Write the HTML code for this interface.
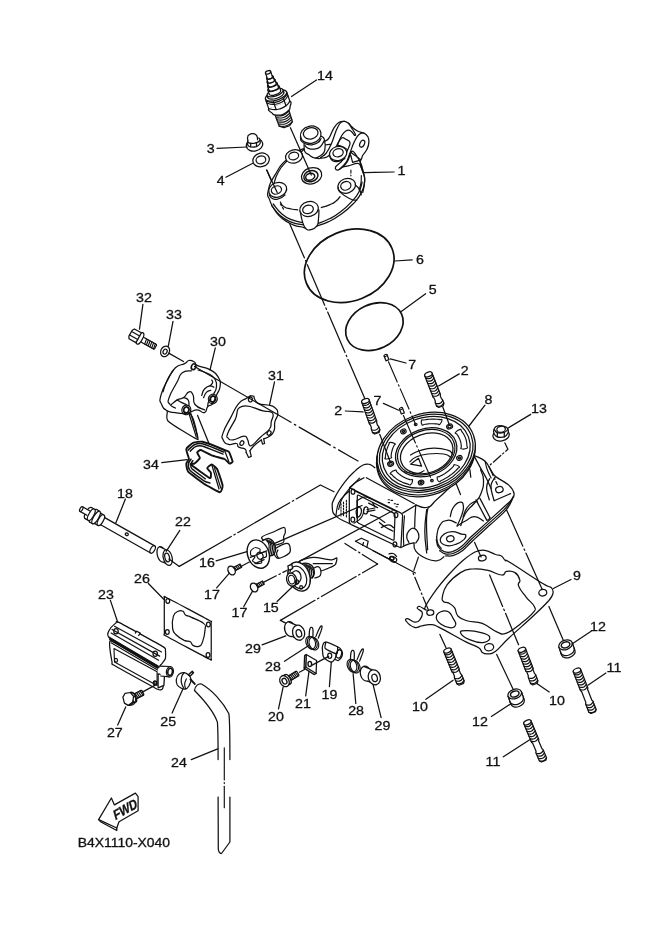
<!DOCTYPE html>
<html><head><meta charset="utf-8"><title>B4X1110-X040</title>
<style>
html,body{margin:0;padding:0;background:#fff;}
body{width:661px;height:935px;overflow:hidden;}
svg{display:block;will-change:transform;}
svg path,svg ellipse,svg circle,svg rect{fill:none;stroke:#111;stroke-width:1.25;stroke-linecap:round;stroke-linejoin:round;}
svg .w{fill:#fff;}
svg text{font-family:"Liberation Sans",sans-serif;fill:#111;stroke:#111;stroke-width:0.3px;}
</style></head><body>
<svg width="661" height="935" viewBox="0 0 661 935">
<text transform="translate(324.9 79.8) scale(1.13 1)" text-anchor="middle" font-size="12.6">14</text>
<text transform="translate(210.6 153.1) scale(1.13 1)" text-anchor="middle" font-size="12.6">3</text>
<text transform="translate(220.7 185.1) scale(1.13 1)" text-anchor="middle" font-size="12.6">4</text>
<text transform="translate(401.5 174.7) scale(1.13 1)" text-anchor="middle" font-size="12.6">1</text>
<text transform="translate(420 263.8) scale(1.13 1)" text-anchor="middle" font-size="12.6">6</text>
<text transform="translate(432.8 294.1) scale(1.13 1)" text-anchor="middle" font-size="12.6">5</text>
<text transform="translate(412.3 369.3) scale(1.13 1)" text-anchor="middle" font-size="12.6">7</text>
<text transform="translate(377.4 405) scale(1.13 1)" text-anchor="middle" font-size="12.6">7</text>
<text transform="translate(464.8 374.8) scale(1.13 1)" text-anchor="middle" font-size="12.6">2</text>
<text transform="translate(338.2 415.2) scale(1.13 1)" text-anchor="middle" font-size="12.6">2</text>
<text transform="translate(488.5 403.5) scale(1.13 1)" text-anchor="middle" font-size="12.6">8</text>
<text transform="translate(539 412.5) scale(1.13 1)" text-anchor="middle" font-size="12.6">13</text>
<text transform="translate(144 301.5) scale(1.13 1)" text-anchor="middle" font-size="12.6">32</text>
<text transform="translate(174 318.5) scale(1.13 1)" text-anchor="middle" font-size="12.6">33</text>
<text transform="translate(218 345.5) scale(1.13 1)" text-anchor="middle" font-size="12.6">30</text>
<text transform="translate(276 379.5) scale(1.13 1)" text-anchor="middle" font-size="12.6">31</text>
<text transform="translate(151 468.5) scale(1.13 1)" text-anchor="middle" font-size="12.6">34</text>
<text transform="translate(125 497.5) scale(1.13 1)" text-anchor="middle" font-size="12.6">18</text>
<text transform="translate(183 525.5) scale(1.13 1)" text-anchor="middle" font-size="12.6">22</text>
<text transform="translate(207 566.5) scale(1.13 1)" text-anchor="middle" font-size="12.6">16</text>
<text transform="translate(212 598.5) scale(1.13 1)" text-anchor="middle" font-size="12.6">17</text>
<text transform="translate(239.5 616.8) scale(1.13 1)" text-anchor="middle" font-size="12.6">17</text>
<text transform="translate(270.8 612) scale(1.13 1)" text-anchor="middle" font-size="12.6">15</text>
<text transform="translate(142 582.5) scale(1.13 1)" text-anchor="middle" font-size="12.6">26</text>
<text transform="translate(106 598.5) scale(1.13 1)" text-anchor="middle" font-size="12.6">23</text>
<text transform="translate(253 652.5) scale(1.13 1)" text-anchor="middle" font-size="12.6">29</text>
<text transform="translate(382.5 730.3) scale(1.13 1)" text-anchor="middle" font-size="12.6">29</text>
<text transform="translate(273 670.5) scale(1.13 1)" text-anchor="middle" font-size="12.6">28</text>
<text transform="translate(356.1 715.3) scale(1.13 1)" text-anchor="middle" font-size="12.6">28</text>
<text transform="translate(329.4 699) scale(1.13 1)" text-anchor="middle" font-size="12.6">19</text>
<text transform="translate(303 708) scale(1.13 1)" text-anchor="middle" font-size="12.6">21</text>
<text transform="translate(276 720.5) scale(1.13 1)" text-anchor="middle" font-size="12.6">20</text>
<text transform="translate(168.2 725.9) scale(1.13 1)" text-anchor="middle" font-size="12.6">25</text>
<text transform="translate(114.8 736.9) scale(1.13 1)" text-anchor="middle" font-size="12.6">27</text>
<text transform="translate(179 766.5) scale(1.13 1)" text-anchor="middle" font-size="12.6">24</text>
<text transform="translate(577 579.5) scale(1.13 1)" text-anchor="middle" font-size="12.6">9</text>
<text transform="translate(598 630.5) scale(1.13 1)" text-anchor="middle" font-size="12.6">12</text>
<text transform="translate(480 725.5) scale(1.13 1)" text-anchor="middle" font-size="12.6">12</text>
<text transform="translate(614 671.5) scale(1.13 1)" text-anchor="middle" font-size="12.6">11</text>
<text transform="translate(493 765.5) scale(1.13 1)" text-anchor="middle" font-size="12.6">11</text>
<text transform="translate(420 710.5) scale(1.13 1)" text-anchor="middle" font-size="12.6">10</text>
<text transform="translate(557 704.5) scale(1.13 1)" text-anchor="middle" font-size="12.6">10</text>
<text x="77.7" y="846.5" font-size="12.2" textLength="92.4" lengthAdjust="spacingAndGlyphs">B4X1110-X040</text>
<path d="M266.7 170.1L365 399" stroke-dasharray="44 3 1.5 3"/>
<path d="M259.8 404.3L350 456.5" stroke-dasharray="36 4 1.5 4"/>
<ellipse cx="349.2" cy="265.8" rx="46.2" ry="35" transform="rotate(-22 349.2 265.8)" style="stroke-width:1.7"/>
<ellipse cx="374.4" cy="326.6" rx="29.9" ry="22.5" transform="rotate(-25 374.4 326.6)" style="stroke-width:1.7"/>
<path d="M394.6 261L412.2 259.8"/>
<path d="M400.9 311.8L425.6 293.7"/>
<path d="M268.1 191.2C266.6 197.8 267.9 194.7 269.5 199.4C271.1 204.2 270.7 204 274.1 209C277.5 214.1 277.1 214.3 282.2 218.5C287.3 222.7 287.3 222.4 293.1 224.8C298.9 227.3 299.7 226.2 304 227.6C308.4 228.9 306.1 230.1 309.5 229.7C312.9 229.3 311.9 228.1 316.7 226.1C321.6 224.1 321.3 225.1 327.6 222.1C333.9 219.1 333.5 219.7 340.3 214.8C347.1 210 347.5 209.8 353 204C358.6 198.1 358.2 198.9 361.2 193.1C364.3 187.3 363.8 187.5 364.5 182.2C365.1 176.8 364.9 178.9 363.6 173.1C362.2 167.3 362.2 165.5 359.4 160.4C356.6 155.3 358.1 157.9 353 154C348 150.2 347.8 148.3 340.3 145.9C332.8 143.4 334.6 144.2 324.9 145C315.2 145.7 313.9 145 304 148.6C294.1 152.2 295.4 151.6 287.7 158.6C279.9 165.6 280.2 166.2 275 174.9C269.7 183.6 269.5 184.7 268.1 191.2Z" style="fill:#fff"/>
<path d="M271.7 205.8C274 208.4 275.2 211.4 280.4 215.8C285.6 220.1 285.1 219.6 291.3 222.1C297.5 224.6 300.4 224.2 303.7 225"/>
<path d="M273.2 204C275.5 206.6 276.8 209.7 281.9 213.9C287 218.2 286.7 217.7 292.2 219.9C297.7 222.2 299.8 221.8 302.6 222.5"/>
<path d="M317.6 223.6C320.8 222.3 323.4 221.9 329.4 218.8C335.5 215.8 334.5 216.6 340.3 212.1C346.1 207.7 346.3 207.5 351.2 202.1C356.2 196.8 355.9 197.5 358.8 192.2C361.7 186.8 361.2 184.8 362.1 182.2"/>
<path d="M273.7 184.9C275.2 180.7 273.7 180.4 278.2 172.2C282.8 164 284.3 164.3 287.3 160.4"/>
<path d="M300.7 152.2L304 149.5"/>
<path d="M280.4 202.1C281.6 203.7 280.4 204.4 284 206.7C287.7 209 286.8 208 291.3 209C295.8 210.1 295.5 209.5 297.7 209.8"/>
<path d="M321.3 207.6C324 206.7 324.6 207 329.4 204.9C334.3 202.7 332.3 204 335.8 201.2C339.3 198.5 338.6 198.2 340 196.7"/>
<path d="M280.4 204L283.7 209.4" stroke-dasharray="2 2" style="stroke-width:1.15"/>
<path d="M320.4 158C320.2 157.3 323.7 156.3 325.9 153.5C328 150.7 329.3 148.6 331.3 144C333.4 139.5 334.3 135 336.1 130.7C338 126.5 338.7 124.8 340.4 122.9C342.1 121 343 121.2 344.6 121.3C346.2 121.4 347 122.1 348.5 123.2C350 124.4 350.2 125.5 352.1 127.1C354 128.7 355.5 130.1 357.9 131.3C360.4 132.5 362.2 132.1 364.2 133.2C366.2 134.2 366.9 135 367.9 136.8C368.8 138.5 369.1 139.4 368.9 141.9C368.8 144.3 368.4 146.5 367.1 149.1C365.9 151.8 364 153.1 362.8 155.2C361.6 157.2 362 158.8 361.1 159.3C360.1 159.8 359.8 159.2 357.9 157.6C356.1 156 354.1 150.4 351.9 151.3C349.7 152.2 349.7 158.5 347 162.2C344.4 165.9 341.1 168.7 338.8 169.7C336.5 170.7 334.7 169.2 335.5 167.3C336.3 165.3 340.5 163.2 342.8 160C345.1 156.8 345.6 154.7 347 151.3C348.5 147.9 350.3 145.3 350.1 142.8C349.8 140.4 347.5 140.2 345.8 139.2C344.1 138.2 343.4 136.8 341.6 138C339.8 139.2 338.6 142.4 336.8 145.3C334.9 148.2 334.5 150.2 332.5 152.5C330.6 154.8 329.5 155.7 327.1 156.8C324.7 157.8 320.7 158.6 320.4 158Z" style="fill:#fff"/>
<path d="M325.3 141C326.2 140.3 327.2 140.7 329.1 137.8C331.1 134.8 331.5 131.9 333.7 128.3C336 124.8 336.3 124.1 338.8 122.5C341.4 120.9 343.3 121.6 344.6 121.3"/>
<path d="M337.6 144.7C338.5 142.6 339.7 139 341.6 135.8C343.5 132.6 343.8 132.2 345.8 131C347.9 129.8 348.4 129.7 350.4 130.7C352.5 131.8 353.6 134.3 354.5 135.3"/>
<path d="M348.5 123.2C349.2 124.2 350.5 126.1 351.9 128.3C353.3 130.5 355 133 355.5 134.4C356 135.8 354.7 135.1 354.5 135.3"/>
<path d="M338.8 169.7C340.5 168 343.5 166.2 346.1 162.4C348.6 158.7 348 158 349.7 153.7C351.4 149.4 351.6 148 353.3 144C355 140.1 355.3 139.3 357 136.8C358.7 134.3 358.9 134.2 360.6 133.4C362.3 132.5 363.4 133.2 364.2 133.2"/>
<ellipse cx="362.2" cy="143.7" rx="2.2" ry="3.7" transform="rotate(25 362.2 143.7)"/>
<path d="M350.9 155.9L352.6 162.4L359.4 160.3"/>
<path d="M350.9 155.9L349.5 154"/>
<path d="M342.4 167C343.6 166.8 345.2 166.6 348.3 165.8C351.4 165.1 355.4 163.1 357.9 163.4C360.5 163.7 360.1 165.6 361.1 167.3C362 169 362.4 171 362.8 171.9"/>
<path d="M361.1 159.3C360.9 160.1 360 160.9 360.4 163.4C360.7 165.9 362.3 170.2 362.8 171.9"/>
<path d="M350.9 170.1L350.9 175.8" stroke-dasharray="3 2" style="stroke-width:1.15"/>
<path d="M362.8 171.9C363.2 173.3 364.3 174.8 364.6 177.9C364.9 181 364.7 181.8 364.2 185.2C363.8 188.6 363.1 190.8 362.8 192.5"/>
<path d="M361.3 175.5C361.2 177.2 361.5 179.4 361 182.8C360.5 186.2 359.6 188.3 359.1 190" style="stroke-width:1.15"/>
<path d="M304.1 143.4C304.2 145.3 303.7 148.8 304.7 151.3C305.7 153.9 305.9 152.8 308.3 154.3C310.7 155.9 312 157.8 315 158C317.9 158.2 318.7 157 321 155.2C323.3 153.3 324 153.8 324.8 150.1C325.5 146.4 325.2 142.5 324.3 139.2C323.4 136 321.8 136.9 321 136.2" style="fill:#fff"/>
<path d="M304.7 145.3C305.5 146 306.1 147.4 308.3 148.3C310.6 149.2 311.5 149.5 314.4 149.1C317.2 148.8 318.2 148.6 320.4 146.7C322.7 144.8 323.2 142.3 324 141"/>
<path d="M315 158C316 158.1 317.8 158.7 319.2 158.6C320.6 158.4 320.6 157.6 321 157.4" style="stroke-width:1.15"/>
<ellipse cx="310.7" cy="134.7" rx="10.4" ry="8.6" transform="rotate(-12 310.7 134.7)" style="fill:#fff"/>
<ellipse cx="310.7" cy="133.4" rx="7.4" ry="5.6" transform="rotate(-12 310.7 133.4)"/>
<path d="M300.6 136.2C300.7 137.3 300.1 139.2 301.3 141C302.5 142.9 303.4 143.2 305.9 144C308.4 144.9 309.1 145.1 311.9 144.8C314.8 144.4 315.9 144 318 142.6C320.1 141.2 320.3 139.5 321 138.6"/>
<ellipse cx="277.7" cy="189.8" rx="9.2" ry="7.2" transform="rotate(-20 277.7 189.8)" style="fill:#fff"/>
<ellipse cx="276.4" cy="190" rx="5.2" ry="4" transform="rotate(-20 276.4 190)"/>
<path d="M269.2 194.9C270.5 196.2 269.7 197.7 273.2 198.9C276.6 200.1 275.6 199.8 279.5 198.5C283.4 197.2 283.1 196.1 285 194.9"/>
<ellipse cx="294" cy="156.4" rx="8.6" ry="6.6" transform="rotate(-15 294 156.4)" style="fill:#fff"/>
<ellipse cx="293.7" cy="156" rx="5" ry="3.8" transform="rotate(-15 293.7 156)"/>
<ellipse cx="338.1" cy="153.5" rx="8.8" ry="7" transform="rotate(-15 338.1 153.5)" style="fill:#fff"/>
<ellipse cx="338.1" cy="152.8" rx="5.2" ry="4" transform="rotate(-15 338.1 152.8)"/>
<path d="M329.8 155.8C330.6 157.4 329.3 158.6 332.2 160.4C335.1 162.2 334.3 161.9 338.5 161.3C342.7 160.7 342.7 159.5 344.9 158.6"/>
<ellipse cx="346.7" cy="185.8" rx="9" ry="7.2" transform="rotate(-20 346.7 185.8)" style="fill:#fff"/>
<ellipse cx="345.8" cy="185.8" rx="5.2" ry="4.2" transform="rotate(-20 345.8 185.8)"/>
<path d="M338.1 187.6C338.9 189.1 336.6 188.5 340.3 192.2C344.1 195.8 344 195.8 349.4 198.5C354.8 201.2 354.2 199.7 356.7 200.3"/>
<path d="M355.2 184.9C356.6 186.4 357.4 186.1 359.4 189.4C361.4 192.8 360.6 193.1 361.2 194.9"/>
<path d="M300 210.3C300.7 213.5 301 217.3 302.6 222.1C304.1 227 303.8 226.4 305.8 228.5C307.9 230.5 307.5 230.4 310.4 229.7C313.3 229.1 314.5 229.1 316.7 226.1C318.9 223.1 318 222.8 318.5 218.5C319.1 214.1 318.8 212.1 318.9 209.8" style="fill:#fff"/>
<ellipse cx="309.1" cy="209" rx="9.4" ry="7.4" transform="rotate(-15 309.1 209)" style="fill:#fff"/>
<ellipse cx="308" cy="209.4" rx="5.4" ry="4.2" transform="rotate(-15 308 209.4)"/>
<ellipse cx="311.6" cy="175.8" rx="10.3" ry="8" transform="rotate(-18 311.6 175.8)" style="fill:#fff"/>
<ellipse cx="310.9" cy="176.2" rx="7.2" ry="5.4" transform="rotate(-18 310.9 176.2)" style="stroke-width:1.5"/>
<ellipse cx="310.2" cy="176.7" rx="4.6" ry="3.3" transform="rotate(-18 310.2 176.7)" style="stroke-width:1.5"/>
<path d="M363.9 172.7L375 172.4"/>
<path d="M375 172.4L394 172"/>
<path d="M426.1 610.1C427.3 610.1 423.4 610.6 425.4 606.5C427.4 602.4 431.7 595.9 436.3 589.6C440.9 583.3 443.1 580.8 448.4 575C453.7 569.2 457.6 565.1 462.9 560.5C468.3 555.9 470.7 554.1 475 552C479.4 550 480.6 549.9 484.7 550.3C488.8 550.8 492.2 553.3 495.6 554.5C499 555.6 499.7 554.9 501.7 556.2C503.6 557.4 503.6 559.3 505.3 560.5C507 561.8 502.6 557.9 510.1 562.5C517.6 567 534.6 578.5 542.8 583.5C551 588.5 549.3 585.7 551.3 587.6C553.3 589.6 553.5 590.6 553 593.2C552.5 595.8 552.6 596.1 548.9 600.5C545.1 604.8 542.3 607.5 534.3 615C526.4 622.5 516.7 630.7 508.9 638C501.2 645.2 499.7 648.1 495.6 651.3C491.5 654.5 491 653.7 488.4 653.9C485.7 654.2 484.2 653.8 482.3 652.5C480.4 651.2 482.1 649.8 478.7 647.7C475.3 645.5 473.3 645.7 465.4 641.6C457.4 637.5 445.7 630.5 438.7 627.1C431.7 623.7 433.6 624.9 430.3 624.7C426.9 624.4 424.9 625.3 421.8 625.9C418.6 626.4 417.7 628.3 414.5 627.3C411.4 626.4 407.4 622.8 406.1 621C404.7 619.3 406 618.4 407.7 618.6C409.5 618.9 412.6 622 415 622.2C417.4 622.5 418.4 621.8 419.8 619.8C421.3 617.9 422.8 614.8 422.3 612.6C421.8 610.3 417.9 609.7 417.4 608.4C416.9 607.2 418.1 606.2 419.8 606.5C421.6 606.8 425 610.1 426.1 610.1Z" style="fill:#fff"/>
<path d="M442.4 596.8C443.2 592.9 443 590.4 447.2 584.7C451.4 579.1 454.6 576.3 460.5 572.6C466.4 568.9 466.4 569.6 472.6 569C478.8 568.4 480.4 568.8 487.1 570.2C493.9 571.6 497.1 574.8 501.7 575C506.2 575.3 503.4 572 506.5 571.4C509.6 570.8 511.9 570.6 515 572.6C518.1 574.6 519 576.8 519.8 579.9C520.7 583 517.2 582 518.6 585.9C520 589.9 522.2 592 525.9 596.8C529.5 601.6 532.6 602.8 534.3 606.5C536 610.2 536.2 608.6 533.1 612.6C530 616.5 527.2 618.6 521 623.4C514.8 628.3 512.2 631.2 506.5 633.1C500.9 635.1 502.5 634.2 496.8 631.9C491.2 629.7 489.1 626 482.3 623.4C475.5 620.9 473.4 622.7 467.8 621C462.1 619.3 461.2 619.3 458.1 616.2C455 613.1 456.7 610.8 454.5 607.7C452.2 604.6 451 604.3 448.4 602.9C445.9 601.5 445 603.1 443.6 601.7C442.2 600.3 441.5 600.8 442.4 596.8Z"/>
<path d="M436.3 617.4C436.3 614.6 437.8 613.1 440.7 611.8C443.5 610.5 445.5 610.2 448.4 611.8C451.3 613.4 451.6 615.6 453.3 618.6C454.9 621.6 456.2 622.5 455.7 624.7C455.1 626.8 454.3 628 450.8 627.8C447.3 627.6 444.1 626.4 440.7 623.9C437.3 621.5 436.3 620.2 436.3 617.4Z"/>
<path d="M460.5 632.6C459.9 630.5 463 630.7 467.8 630.7C472.6 630.7 476 631.2 481.1 632.6C486.2 634.1 488.8 634.5 489.6 636.8C490.3 639 488.8 641.6 484.2 642.3C479.7 643.1 475.7 642.2 470.2 639.9C464.7 637.7 461.1 634.8 460.5 632.6Z"/>
<ellipse cx="482.3" cy="558.1" rx="3.9" ry="2.8" transform="rotate(-10 482.3 558.1)"/>
<ellipse cx="542.8" cy="592.7" rx="4" ry="3.3" transform="rotate(-10 542.8 592.7)"/>
<ellipse cx="430.3" cy="612.6" rx="3.5" ry="2.7" transform="rotate(-10 430.3 612.6)"/>
<ellipse cx="489.1" cy="647.2" rx="4.6" ry="3.6" transform="rotate(-10 489.1 647.2)"/>
<path d="M553.3 588.5L571 579.5"/>
<path d="M331.4 507.6C331.1 504.3 331.8 501.3 334.1 496.8C336.3 492.2 341.5 485 345 480.4C348.4 475.9 351.9 472.4 355 469.5C358 466.6 360.9 464.1 363.1 463.2C365.4 462.3 349.8 465.3 368.6 464.1C387.3 462.9 456.4 456.3 475.7 456C494.9 455.7 481 459 484.1 462.4C487.3 465.7 491.1 473.1 494.7 476.1C498.3 479.1 502.5 477.7 505.7 480.4C509 483 513.5 488.4 514.2 492C514.9 495.6 513.2 499 510 502.2C506.7 505.4 499.7 507.3 494.7 511.1C489.7 514.9 484.5 520.4 479.9 524.8C475.3 529.3 471.4 533.8 467.2 537.8C463 541.7 458.2 546.4 454.5 548.4C450.8 550.3 447.4 550.3 444.9 549.2C442.5 548.1 440.3 539.9 439.7 541.8C439 543.6 442 557 441 560.3C440 563.6 436.2 562.1 433.8 561.5C431.3 560.9 429.3 559.5 426.5 556.7C423.7 553.8 421.3 546 416.8 544.6C412.4 543.2 411.1 551.7 399.9 548.2C388.7 544.7 360.2 528.9 349.5 523.6C338.8 518.4 338.9 519.4 335.9 516.7C332.9 514.1 331.7 511 331.4 507.6Z" style="fill:#fff;stroke:none"/>
<path d="M349.5 523.6C346.4 521.9 340.3 520.1 336.3 516.4C332.2 512.6 332.6 512.1 332.3 507.6C332 503.2 331.9 503.3 335 497.1C338 491 340.5 487.5 345.3 481.3C350.1 475.1 351.3 474.4 355.5 470.6C359.7 466.8 359.9 466.4 363.1 465C366.4 463.5 366.7 463.8 369.5 464.4C372.2 465.1 373.7 466.9 374.9 467.7"/>
<path d="M338.6 509.5C339.5 506.9 339.5 503.7 342.2 498.6C345 493.5 346.4 492.4 350.4 487.7C354.4 482.9 357.4 480.4 359.5 478.2" style="stroke-width:1.15"/>
<path d="M349.5 487.7C351 486.4 352.5 484.6 355.9 482.2C359.3 479.9 362.1 478.8 364 477.7"/>
<path d="M335.9 515.8C336.5 512.9 336.3 508.2 338.6 503.1C340.9 498 343.3 496.8 345.9 494C348.4 491.3 348.7 491.9 349.5 491.3" style="stroke-width:1.15"/>
<path d="M341 503.7L341 516" stroke-dasharray="1.5 1.5" style="stroke-width:1.15"/>
<path d="M343.5 502.1L343.5 516.8" stroke-dasharray="1.5 1.5" style="stroke-width:1.15"/>
<path d="M346.4 500.4L346.4 517.6" stroke-dasharray="1.5 1.5" style="stroke-width:1.15"/>
<path d="M349.3 489.9Q349.3 487.7 351.3 488.6L400.7 512.9Q402.7 513.8 402.6 516L401 545.8Q400.9 548 398.9 547L351.3 524.6Q349.3 523.6 349.3 521.4Z"/>
<path d="M357.3 496.2Q357.3 494.6 358.7 495.3L393.7 513.1Q395.1 513.8 395 515.4L394.1 539.1Q394 540.7 392.6 540L358.7 523.2Q357.3 522.5 357.3 520.9Z"/>
<path d="M355.1 490.9L396.5 511.6" style="stroke-width:1.15"/>
<ellipse cx="353" cy="491.7" rx="1.9" ry="2.5"/>
<ellipse cx="396" cy="515.1" rx="1.9" ry="2.5"/>
<ellipse cx="394.9" cy="544.3" rx="1.9" ry="2.5"/>
<ellipse cx="352.8" cy="519.6" rx="1.9" ry="2.5"/>
<path d="M358.6 506.7C359.3 507.5 360.8 507.3 361.3 509.5C361.8 511.6 361.5 512.7 360.4 514.9C359.3 517.1 358.1 516.9 357.3 517.6"/>
<path d="M358.6 506.7C358 508 356.6 508.4 356.2 511.3C355.9 514.2 357 515.9 357.3 517.6"/>
<ellipse cx="365.8" cy="510.4" rx="2.2" ry="3.6" transform="rotate(10 365.8 510.4)"/>
<path d="M354 523.1C356 521.6 358.6 521.3 361.3 517.6C364 514 363.3 511.6 364 509.5" style="stroke-width:1.15"/>
<path d="M381.3 527.6C383.2 526.9 385.2 524.9 388.5 524.9C391.8 524.9 392.3 526.9 393.6 527.6"/>
<path d="M379.5 522.5C380.9 523.6 381.3 524.4 384.9 526.7C388.5 529 390.9 530 393.1 531.2"/>
<path d="M368.6 503.1L377.6 507.6"/>
<path d="M372.6 502.6L374.9 506.7"/>
<path d="M357 500.7L357 517.6" style="stroke-width:1.15"/>
<path d="M357 500.7C358.6 499.9 360.9 497.6 364 497.1C367.2 496.6 368.9 498.2 370.4 498.6" style="stroke-width:1.15"/>
<path d="M370.4 514.9C372.1 515.5 374.3 515.9 377.6 517.6C381 519.4 383.2 521.4 384.9 522.5" style="stroke-width:1.15"/>
<path d="M367.1 509.5L374.9 508"/>
<path d="M367.1 511.6L374.9 510.2"/>
<path d="M388.2 499.7L389.6 499.7" style="stroke-width:1.15"/>
<path d="M391.1 500.4L392.5 500.4" style="stroke-width:1.15"/>
<path d="M394.2 503.7L395.6 503.7" style="stroke-width:1.15"/>
<path d="M396.9 504.4L398.3 504.4" style="stroke-width:1.15"/>
<path d="M388.2 502.6L389.6 502.6" style="stroke-width:1.15"/>
<path d="M396 506.7L397.4 506.7" style="stroke-width:1.15"/>
<path d="M366.4 477.7L414.3 503.7"/>
<path d="M402.7 513.1L415.8 505.3"/>
<path d="M415.8 504.9C415.6 507.7 415.3 511.5 415 516.7C414.8 521.9 414.8 524.8 414.7 527.3"/>
<path d="M400.9 547.6C402.5 546.8 404.6 545.4 407.6 544.3C410.7 543.2 412.5 543.2 414 542.9"/>
<path d="M404.5 515.8C404.3 519.4 403.6 524.3 403.4 531.2C403.3 538.2 403.7 542.4 403.8 545.8" style="stroke-width:1.15"/>
<path d="M408.9 542.5C408.3 541 406.7 539.8 406.7 536.7C406.7 533.6 407.2 533.2 408.9 530.9C410.6 528.6 410.8 528 413 528C415.3 528 415.7 528.5 417.2 530.9C418.8 533.3 419.2 533.8 418.9 537.1C418.5 540.3 416.6 541.5 415.8 543"/>
<path d="M415.8 504.9C417.7 505.6 420.8 507.3 423.9 507.6C427.1 508 428.1 506.8 429.4 506.6"/>
<path d="M426.7 509.5C426.2 514.5 424.8 521.1 424.8 531.2C424.8 541.4 426.2 548 426.7 553"/>
<path d="M414 542.9C414.4 544.8 412.8 547.5 415.8 551.2C418.7 554.9 421.6 556.6 426.7 558.8C431.7 561 433.5 561.2 437.6 560.7C441.6 560.1 442.4 557.6 443.9 556.7"/>
<path d="M355.5 541.2L361.4 538.2L368.2 541.2L366.9 547.1"/>
<path d="M355.5 541.2L415.4 573"/>
<path d="M373.1 550.7L394.9 562.1"/>
<path d="M363.5 542.5L362.7 545.4"/>
<ellipse cx="393.2" cy="559.4" rx="3.6" ry="2.6" transform="rotate(25 393.2 559.4)"/>
<ellipse cx="391.9" cy="558.3" rx="2.2" ry="1.6" transform="rotate(25 391.9 558.3)" style="stroke-width:1.5"/>
<path d="M389 553.9C390.1 553.8 391.2 552.8 393.2 553.5C395.2 554.1 395.7 555.6 396.6 556.4"/>
<path d="M473.7 455.3C476 456.5 481.6 458.3 485.1 461.3C488.5 464.4 489 467.4 491.1 470.4C493.2 473.4 492 473.4 495.6 476.5C499.3 479.5 505.6 482.1 509.3 485.6C513 489 513.7 490.9 514.1 493.9C514.5 496.8 513 497.7 511.1 500.2C509.2 502.7 509.3 502 504.7 506.3C500.1 510.5 494.7 515.4 488.1 521.4C481.4 527.5 476.8 531.5 471.4 536.5C466.1 541.6 464.9 543.8 461.1 546.8C457.4 549.8 455.9 550.7 452.5 551.7C449.1 552.6 447.1 552.6 444.2 551.7C441.3 550.7 439.7 549.3 438.2 546.8C436.6 544.3 436.7 540.8 436.3 539.3"/>
<path d="M513.5 496.1C511.9 498.6 510.4 502.8 505.5 508.2C500.5 513.7 495.5 517.3 488.8 523.4C482.2 529.4 477.5 533.4 472.2 538.5C466.8 543.6 465.9 545.6 462.1 548.6C458.2 551.6 456.4 552.5 453 553.5C449.6 554.5 447.6 554.4 445 553.8C442.3 553.2 440.7 551.2 439.7 550.6"/>
<path d="M512.6 498.7C511.3 501 510.5 504.9 505.9 510.2C501.3 515.5 496.2 519.3 489.6 525.3C483 531.4 478.3 535.4 473 540.5C467.6 545.5 466.5 547.6 462.7 550.6C458.8 553.6 457 554.4 453.6 555.4C450.2 556.5 447.3 555.8 445.7 555.9"/>
<path d="M495.6 476.5C494.8 477.9 492.9 479.7 491.9 482.5C490.8 485.4 490.6 484.3 491.1 488.6C491.6 492.8 493.4 497.9 494.1 500.7"/>
<path d="M494.1 500.7L510.5 493.6"/>
<ellipse cx="499.4" cy="489.6" rx="3.8" ry="3" transform="rotate(-15 499.4 489.6)"/>
<path d="M473.7 455.3C475.1 457.9 476.8 461.2 479.8 466.6C482.8 472.1 483.9 473.6 486.6 478.7C489.2 483.9 490 486.3 491.1 488.6"/>
<path d="M485.1 461.3C485.6 463.3 485.9 465.8 487.3 469.7C488.7 473.6 490.2 476 491.1 478" style="stroke-width:1.15"/>
<path d="M480.5 469.7C481.3 472.5 483.5 473.8 483.5 480.3C483.6 486.7 483.2 487.8 480.8 493.9C478.4 499.9 478.6 497.7 474.5 503C470.3 508.2 469 507.5 465.4 513.5C461.8 519.6 462.1 522.4 460.8 525.6"/>
<path d="M489.6 478.7C488.8 481.2 486.6 482.2 486.6 487.8C486.5 493.5 488.6 496.7 489.3 499.9"/>
<path d="M469.9 469.7L470.8 477.2"/>
<path d="M456.3 484L460.5 494.6"/>
<path d="M476 499.9L486.6 519.9"/>
<path d="M479.9 498.4L489.9 517.5"/>
<path d="M486.6 519.9C487 519.9 487.5 520.5 488.4 519.9C489.3 519.2 489.5 518.1 489.9 517.5"/>
<path d="M450.3 516.6C451.1 514.1 450.7 511.3 453.3 507.5C455.9 503.7 457.4 502.5 460.1 502.2C462.8 501.9 463 502.8 463.4 506.3C463.8 509.8 463.3 510.1 461.6 515.4C459.9 520.6 458.3 523.1 457.1 525.9"/>
<path d="M463.1 516.6C464.2 514.1 464.5 511.3 467.2 507.5C469.9 503.7 470.6 503.7 473.3 502.2C475.9 500.7 476.1 501.9 477.2 501.7"/>
<path d="M457.1 525.9C459.3 524.7 460.7 523.6 465.4 521.1C470 518.6 469.6 516.6 474.5 516.6C479.3 516.6 481.1 519.9 483.5 521.1" style="stroke-width:1.15"/>
<path d="M427.6 549.8C427.4 541.7 425.7 525.6 426.8 515.1C427.9 504.5 428.4 509.3 432.1 504.5C435.8 499.6 438.3 498.4 442.7 494.2C447.1 489.9 449.1 488.1 451 486.3"/>
<path d="M436.6 537C437.4 534 436.8 530.1 439.7 525.6C442.6 521.2 443.1 521.1 447.5 520.3C452 519.6 454 522.2 456.3 522.9"/>
<path d="M436.6 537C437 538.8 436.6 540.8 437.9 543.8C439.1 546.8 440.3 547.1 441.2 548.3"/>
<path d="M440.4 541.1C439.7 538.4 441.4 536.3 444.2 534.1C447 531.9 448.5 531.7 452.5 531.7C456.6 531.7 458.5 533.3 461.6 534.1C464.7 534.9 465.2 533.8 465.7 535C466.2 536.3 466.1 537.4 463.9 539.6C461.7 541.7 460.2 542.7 456.3 544.1C452.4 545.5 450.9 546.3 447.2 545.6C443.5 544.9 441.1 543.8 440.4 541.1Z"/>
<ellipse cx="450.3" cy="538.7" rx="3.8" ry="3" transform="rotate(-15 450.3 538.7)"/>
<ellipse cx="425.7" cy="456.8" rx="50.3" ry="38.4" transform="rotate(-20 425.7 456.8)" style="fill:#fff"/>
<ellipse cx="425.9" cy="454.9" rx="50.3" ry="38.4" transform="rotate(-20 425.9 454.9)" style="stroke-width:1.15"/>
<ellipse cx="426.2" cy="452.3" rx="50.3" ry="38.4" transform="rotate(-20 426.2 452.3)" style="fill:#fff"/>
<ellipse cx="426.2" cy="452.3" rx="48" ry="36.6" transform="rotate(-20 426.2 452.3)"/>
<ellipse cx="426.2" cy="452.3" rx="45" ry="34.4" transform="rotate(-20 426.2 452.3)"/>
<ellipse cx="426.2" cy="452.3" rx="31.5" ry="23.4" transform="rotate(-20 426.2 452.3)" style="fill:#fff"/>
<ellipse cx="426.2" cy="452.3" rx="29.5" ry="21.7" transform="rotate(-20 426.2 452.3)"/>
<ellipse cx="426.7" cy="453.3" rx="27" ry="19.4" transform="rotate(-20 426.7 453.3)"/>
<path d="M410.6 455C413.1 453.8 413.9 452.3 420.1 450.5C426.3 448.6 426.5 448.2 433.8 448.1C441.2 448 442.6 448.5 447.6 450.1C452.6 451.6 451.2 453 452.5 454"/>
<path d="M409.8 461.9C411.5 460.6 411.3 459 416.1 457C421 454.9 420.6 454.8 427.9 454C435.3 453.2 437.4 453 443.7 454C450 455.1 449.4 456.9 451.5 457.9" style="stroke-width:1.15"/>
<path d="M410.6 464.2L418.5 458.3L421.6 466.2Z"/>
<path d="M404.3 471.7C407.5 472.2 410.9 473.9 416.1 473.7C421.4 473.4 421.9 471.5 424 470.7" style="stroke-width:1.15"/>
<path d="M421.4 420.5C421.7 419.4 422.5 420.2 423.5 420C424.5 419.8 424.6 419.8 425.6 419.7C426.6 419.5 426.7 419.5 427.7 419.4C428.7 419.3 428.8 419.3 429.8 419.2C430.8 419.1 430.9 419.1 431.9 419.1C432.9 419.1 433 419.1 434 419.1C434.9 419.1 435.1 419.1 436 419.2C437 419.2 437.1 419.2 438.1 419.3C439 419.4 439.1 419.4 440.1 419.6C441 419.7 442.1 418.8 442 419.9C442 421 440.7 423.4 439.8 424.4C438.9 425.4 438.9 424.2 438.1 424.1C437.3 424 437.2 424 436.4 423.9C435.6 423.8 435.5 423.8 434.7 423.8C433.8 423.7 433.7 423.7 432.9 423.7C432.1 423.7 431.9 423.7 431.1 423.7C430.3 423.7 430.1 423.7 429.3 423.8C428.5 423.9 428.3 423.9 427.5 424C426.6 424.1 426.5 424.1 425.7 424.2C424.8 424.3 424.7 424.3 423.9 424.5C423 424.7 422.6 425.8 422.1 424.9C421.5 424 421.1 421.6 421.4 420.5Z" style="fill:#fff;stroke-width:1.15"/>
<path d="M460.1 429.4C461.5 429 460.9 430.2 461.5 430.9C462.1 431.7 462.2 431.8 462.7 432.6C463.3 433.4 463.3 433.5 463.8 434.4C464.3 435.2 464.3 435.3 464.7 436.2C465.1 437.1 465.2 437.2 465.5 438.1C465.8 439 465.9 439.1 466.1 440C466.4 441 466.4 441.1 466.6 442C466.7 443 466.8 443.1 466.8 444.1C466.9 445 466.9 445.2 467 446.2C467 447.1 468.2 447.6 466.9 448.3C465.6 448.9 462.6 449.1 461.3 448.8C460 448.5 461.3 447.8 461.3 447C461.3 446.2 461.3 446 461.2 445.2C461.1 444.4 461.1 444.3 461 443.5C460.8 442.6 460.8 442.5 460.6 441.7C460.4 440.9 460.3 440.8 460.1 440.1C459.8 439.3 459.7 439.2 459.4 438.4C459 437.7 459 437.6 458.6 436.9C458.2 436.1 458.1 436 457.7 435.3C457.2 434.7 457.1 434.6 456.6 433.9C456.1 433.2 454.6 433.6 455.4 432.5C456.2 431.5 458.7 429.7 460.1 429.4Z" style="fill:#fff;stroke-width:1.15"/>
<path d="M438.9 481.6C439.9 482.3 440.2 481.1 441.3 480.6C442.4 480 442.6 480 443.7 479.4C444.8 478.8 444.9 478.7 446 478.1C447 477.5 447.2 477.4 448.2 476.8C449.2 476.1 449.3 476 450.3 475.3C451.3 474.6 451.4 474.5 452.3 473.7C453.3 473 453.4 472.9 454.3 472.1C455.1 471.3 455.3 471.2 456.1 470.3C456.9 469.5 457 469.4 457.8 468.5C458.5 467.7 460 467.6 459.3 466.7C458.6 465.8 456.1 464.8 454.7 464.7C453.4 464.6 454 465.6 453.4 466.3C452.7 467 452.6 467.1 451.9 467.8C451.2 468.6 451.1 468.7 450.4 469.3C449.6 470 449.5 470.1 448.7 470.8C447.9 471.4 447.8 471.5 447 472.1C446.1 472.7 446 472.8 445.1 473.4C444.3 473.9 444.1 474 443.2 474.5C442.3 475.1 442.2 475.2 441.2 475.6C440.3 476.1 440.2 476.2 439.2 476.6C438.2 477.1 437.2 476.4 437.1 477.5C437 478.7 437.9 480.9 438.9 481.6Z" style="fill:#fff;stroke-width:1.15"/>
<path d="M390.4 473C389.6 474.1 391.1 473.9 391.8 474.7C392.5 475.5 392.6 475.6 393.3 476.3C394.1 477 394.2 477.1 395.1 477.8C395.9 478.5 396 478.6 396.9 479.2C397.8 479.8 397.9 479.9 398.9 480.4C399.8 481 400 481.1 401 481.6C402 482.1 402.1 482.1 403.2 482.6C404.3 483 404.4 483.1 405.5 483.4C406.6 483.8 406.8 483.8 408 484.1C409.1 484.4 409.4 485.6 410.5 484.7C411.6 483.8 412.6 481.4 412.6 480.2C412.7 479 411.5 480 410.5 479.7C409.5 479.5 409.4 479.4 408.4 479.1C407.4 478.8 407.3 478.7 406.4 478.4C405.5 478 405.4 477.9 404.5 477.5C403.6 477.1 403.5 477 402.7 476.5C401.9 476.1 401.7 476 401 475.5C400.2 474.9 400.1 474.8 399.4 474.3C398.7 473.7 398.6 473.6 397.9 473C397.3 472.4 397.2 472.3 396.6 471.6C396 470.9 396.8 469.8 395.4 470.1C393.9 470.4 391.2 471.9 390.4 473Z" style="fill:#fff;stroke-width:1.15"/>
<path d="M385.4 458.9C384.1 458.7 385.4 458 385.4 457.3C385.5 456.5 385.5 456.4 385.5 455.6C385.6 454.8 385.6 454.7 385.7 453.9C385.9 453.2 385.9 453.1 386.1 452.3C386.2 451.5 386.2 451.4 386.5 450.6C386.7 449.8 386.7 449.7 387 449C387.2 448.2 387.3 448.1 387.6 447.3C387.9 446.5 387.9 446.4 388.3 445.7C388.6 444.9 388.7 444.8 389.1 444C389.5 443.3 388.6 442.5 390 442.4C391.3 442.4 394 443.2 395 443.8C396 444.4 394.6 444.5 394.2 445.2C393.9 445.8 393.8 445.9 393.5 446.6C393.2 447.2 393.2 447.3 392.9 448C392.7 448.7 392.6 448.8 392.4 449.4C392.2 450.1 392.2 450.2 392 450.8C391.8 451.5 391.8 451.6 391.6 452.3C391.5 453 391.5 453 391.4 453.7C391.3 454.4 391.2 454.5 391.2 455.1C391.1 455.8 391.1 455.9 391.1 456.6C391.1 457.2 392.4 457.4 391.1 458C389.8 458.5 386.8 459.1 385.4 458.9Z" style="fill:#fff;stroke-width:1.15"/>
<ellipse cx="390.6" cy="463.8" rx="3" ry="2.4" transform="rotate(-20 390.6 463.8)" style="fill:#fff"/>
<ellipse cx="390.6" cy="463.8" rx="1.7" ry="1.3" transform="rotate(-20 390.6 463.8)"/>
<ellipse cx="449.6" cy="426.5" rx="3" ry="2.4" transform="rotate(-20 449.6 426.5)" style="fill:#fff"/>
<ellipse cx="449.6" cy="426.5" rx="1.7" ry="1.3" transform="rotate(-20 449.6 426.5)"/>
<ellipse cx="403.4" cy="431.4" rx="2.8" ry="2.3" transform="rotate(-20 403.4 431.4)" style="fill:#fff;stroke-width:1.2"/>
<ellipse cx="403.4" cy="431.4" rx="1.2" ry="0.9" transform="rotate(-20 403.4 431.4)" style="stroke-width:1.4"/>
<ellipse cx="459.4" cy="457.9" rx="2.8" ry="2.3" transform="rotate(-20 459.4 457.9)" style="fill:#fff;stroke-width:1.2"/>
<ellipse cx="459.4" cy="457.9" rx="1.2" ry="0.9" transform="rotate(-20 459.4 457.9)" style="stroke-width:1.4"/>
<ellipse cx="421.1" cy="482.5" rx="2.8" ry="2.3" transform="rotate(-20 421.1 482.5)" style="fill:#fff;stroke-width:1.2"/>
<ellipse cx="421.1" cy="482.5" rx="1.2" ry="0.9" transform="rotate(-20 421.1 482.5)" style="stroke-width:1.4"/>
<ellipse cx="431.9" cy="480.6" rx="1.4" ry="1.2" style="fill:#fff;stroke-width:1.15"/>
<ellipse cx="415.7" cy="424.5" rx="1.4" ry="1.2" style="fill:#fff;stroke-width:1.15"/>
<path d="M468.6 426.5L485 405.2"/>
<ellipse cx="501.1" cy="435.2" rx="8.2" ry="5.8" transform="rotate(-10 501.1 435.2)" style="fill:#fff"/>
<path d="M493.9 433.1C493.5 432 493.8 429.4 494.3 428.5C494.8 427.5 496.6 426.2 497.9 425.9C499.2 425.6 502.9 426 504.3 426.4C505.6 426.7 507.4 428 507.9 428.9C508.3 429.8 508.3 432.1 507.9 433.1C507.4 434.2 505.7 436.4 504.3 436.9C502.8 437.5 498.6 437.5 497.3 436.9C495.9 436.4 494.3 434.3 493.9 433.1Z" style="fill:#fff"/>
<path d="M497.3 432.7L497.3 436.9"/>
<path d="M504.3 432.3L504.3 436.9"/>
<path d="M494.3 429.5C494.8 430.1 495.6 432.2 497.3 432.7C498.9 433.2 502.5 432.8 504.3 432.3C506 431.8 507.3 430 507.9 429.5"/>
<ellipse cx="501.1" cy="429.3" rx="4.3" ry="3" transform="rotate(-10 501.1 429.3)"/>
<path d="M507.8 428.2L530.7 414.4"/>
<g transform="translate(446.8 648.9) rotate(-22.3)">
<path d="M-3.9 1.5L-3.9 23L-3.3 24L-3.3 28.3L-3.9 29.3L-3.9 36.3L-2.4 38.3L2.4 38.3L3.9 36.3L3.9 29.3L3.3 28.3L3.3 24L3.9 23L3.9 1.5" style="fill:#fff"/>
<ellipse cx="0" cy="1.8" rx="3.9" ry="2.2" style="fill:#fff"/>
<path d="M-3.9 4.5C-2.9 4.9 -2.1 6.1 0 6.1C2.1 6.1 2.9 4.9 3.9 4.5" style="stroke-width:1.2"/>
<path d="M-3.9 7.2C-2.9 7.6 -2.1 8.8 0 8.8C2.1 8.8 2.9 7.6 3.9 7.2" style="stroke-width:1.2"/>
<path d="M-3.9 9.9C-2.9 10.3 -2.1 11.5 0 11.5C2.1 11.5 2.9 10.3 3.9 9.9" style="stroke-width:1.2"/>
<path d="M-3.9 12.6C-2.9 13 -2.1 14.2 0 14.2C2.1 14.2 2.9 13 3.9 12.6" style="stroke-width:1.2"/>
<path d="M-3.9 15.3C-2.9 15.7 -2.1 16.9 0 16.9C2.1 16.9 2.9 15.7 3.9 15.3" style="stroke-width:1.2"/>
<path d="M-3.9 18C-2.9 18.4 -2.1 19.6 0 19.6C2.1 19.6 2.9 18.4 3.9 18" style="stroke-width:1.2"/>
<path d="M-3.9 20.7C-2.9 21.1 -2.1 22.3 0 22.3C2.1 22.3 2.9 21.1 3.9 20.7" style="stroke-width:1.2"/>
<path d="M-3.9 23.4C-2.9 23.8 -2.1 25 0 25C2.1 25 2.9 23.8 3.9 23.4" style="stroke-width:1.2"/>
<path d="M-3.9 30.3C-2.9 30.7 -2.1 31.9 0 31.9C2.1 31.9 2.9 30.7 3.9 30.3" style="stroke-width:1.2"/>
<path d="M-3.9 33C-2.9 33.4 -2.1 34.6 0 34.6C2.1 34.6 2.9 33.4 3.9 33" style="stroke-width:1.2"/>
<path d="M-3.9 35.7C-2.9 36.1 -2.1 37.3 0 37.3C2.1 37.3 2.9 36.1 3.9 35.7" style="stroke-width:1.2"/>
</g>
<g transform="translate(521.2 648.1) rotate(-21)">
<path d="M-3.9 1.5L-3.9 23L-3.3 24L-3.3 28.6L-3.9 29.6L-3.9 36.6L-2.4 38.6L2.4 38.6L3.9 36.6L3.9 29.6L3.3 28.6L3.3 24L3.9 23L3.9 1.5" style="fill:#fff"/>
<ellipse cx="0" cy="1.8" rx="3.9" ry="2.2" style="fill:#fff"/>
<path d="M-3.9 4.5C-2.9 4.9 -2.1 6.1 0 6.1C2.1 6.1 2.9 4.9 3.9 4.5" style="stroke-width:1.2"/>
<path d="M-3.9 7.2C-2.9 7.6 -2.1 8.8 0 8.8C2.1 8.8 2.9 7.6 3.9 7.2" style="stroke-width:1.2"/>
<path d="M-3.9 9.9C-2.9 10.3 -2.1 11.5 0 11.5C2.1 11.5 2.9 10.3 3.9 9.9" style="stroke-width:1.2"/>
<path d="M-3.9 12.6C-2.9 13 -2.1 14.2 0 14.2C2.1 14.2 2.9 13 3.9 12.6" style="stroke-width:1.2"/>
<path d="M-3.9 15.3C-2.9 15.7 -2.1 16.9 0 16.9C2.1 16.9 2.9 15.7 3.9 15.3" style="stroke-width:1.2"/>
<path d="M-3.9 18C-2.9 18.4 -2.1 19.6 0 19.6C2.1 19.6 2.9 18.4 3.9 18" style="stroke-width:1.2"/>
<path d="M-3.9 20.7C-2.9 21.1 -2.1 22.3 0 22.3C2.1 22.3 2.9 21.1 3.9 20.7" style="stroke-width:1.2"/>
<path d="M-3.9 23.4C-2.9 23.8 -2.1 25 0 25C2.1 25 2.9 23.8 3.9 23.4" style="stroke-width:1.2"/>
<path d="M-3.9 30.6C-2.9 31 -2.1 32.2 0 32.2C2.1 32.2 2.9 31 3.9 30.6" style="stroke-width:1.2"/>
<path d="M-3.9 33.3C-2.9 33.7 -2.1 34.9 0 34.9C2.1 34.9 2.9 33.7 3.9 33.3" style="stroke-width:1.2"/>
<path d="M-3.9 36C-2.9 36.4 -2.1 37.6 0 37.6C2.1 37.6 2.9 36.4 3.9 36" style="stroke-width:1.2"/>
</g>
<g transform="translate(576.3 668.9) rotate(-21.1)">
<path d="M-3.9 1.5L-3.9 22L-3.2 23L-3.2 34.9L-3.9 35.9L-3.9 44.9L-2.4 46.9L2.4 46.9L3.9 44.9L3.9 35.9L3.2 34.9L3.2 23L3.9 22L3.9 1.5" style="fill:#fff"/>
<ellipse cx="0" cy="1.8" rx="3.9" ry="2.2" style="fill:#fff"/>
<path d="M-3.9 4.5C-2.9 4.9 -2.1 6.1 0 6.1C2.1 6.1 2.9 4.9 3.9 4.5" style="stroke-width:1.2"/>
<path d="M-3.9 7.2C-2.9 7.6 -2.1 8.8 0 8.8C2.1 8.8 2.9 7.6 3.9 7.2" style="stroke-width:1.2"/>
<path d="M-3.9 9.9C-2.9 10.3 -2.1 11.5 0 11.5C2.1 11.5 2.9 10.3 3.9 9.9" style="stroke-width:1.2"/>
<path d="M-3.9 12.6C-2.9 13 -2.1 14.2 0 14.2C2.1 14.2 2.9 13 3.9 12.6" style="stroke-width:1.2"/>
<path d="M-3.9 15.3C-2.9 15.7 -2.1 16.9 0 16.9C2.1 16.9 2.9 15.7 3.9 15.3" style="stroke-width:1.2"/>
<path d="M-3.9 18C-2.9 18.4 -2.1 19.6 0 19.6C2.1 19.6 2.9 18.4 3.9 18" style="stroke-width:1.2"/>
<path d="M-3.9 20.7C-2.9 21.1 -2.1 22.3 0 22.3C2.1 22.3 2.9 21.1 3.9 20.7" style="stroke-width:1.2"/>
<path d="M-3.9 36.9C-2.9 37.4 -2.1 38.5 0 38.5C2.1 38.5 2.9 37.4 3.9 36.9" style="stroke-width:1.2"/>
<path d="M-3.9 39.6C-2.9 40.1 -2.1 41.2 0 41.2C2.1 41.2 2.9 40.1 3.9 39.6" style="stroke-width:1.2"/>
<path d="M-3.9 42.3C-2.9 42.8 -2.1 43.9 0 43.9C2.1 43.9 2.9 42.8 3.9 42.3" style="stroke-width:1.2"/>
<path d="M-3.9 45C-2.9 45.5 -2.1 46.6 0 46.6C2.1 46.6 2.9 45.5 3.9 45" style="stroke-width:1.2"/>
</g>
<g transform="translate(526.7 720.7) rotate(-22.8)">
<path d="M-3.9 1.5L-3.9 22L-3.2 23L-3.2 31.8L-3.9 32.8L-3.9 41.8L-2.4 43.8L2.4 43.8L3.9 41.8L3.9 32.8L3.2 31.8L3.2 23L3.9 22L3.9 1.5" style="fill:#fff"/>
<ellipse cx="0" cy="1.8" rx="3.9" ry="2.2" style="fill:#fff"/>
<path d="M-3.9 4.5C-2.9 4.9 -2.1 6.1 0 6.1C2.1 6.1 2.9 4.9 3.9 4.5" style="stroke-width:1.2"/>
<path d="M-3.9 7.2C-2.9 7.6 -2.1 8.8 0 8.8C2.1 8.8 2.9 7.6 3.9 7.2" style="stroke-width:1.2"/>
<path d="M-3.9 9.9C-2.9 10.3 -2.1 11.5 0 11.5C2.1 11.5 2.9 10.3 3.9 9.9" style="stroke-width:1.2"/>
<path d="M-3.9 12.6C-2.9 13 -2.1 14.2 0 14.2C2.1 14.2 2.9 13 3.9 12.6" style="stroke-width:1.2"/>
<path d="M-3.9 15.3C-2.9 15.7 -2.1 16.9 0 16.9C2.1 16.9 2.9 15.7 3.9 15.3" style="stroke-width:1.2"/>
<path d="M-3.9 18C-2.9 18.4 -2.1 19.6 0 19.6C2.1 19.6 2.9 18.4 3.9 18" style="stroke-width:1.2"/>
<path d="M-3.9 20.7C-2.9 21.1 -2.1 22.3 0 22.3C2.1 22.3 2.9 21.1 3.9 20.7" style="stroke-width:1.2"/>
<path d="M-3.9 33.8C-2.9 34.3 -2.1 35.4 0 35.4C2.1 35.4 2.9 34.3 3.9 33.8" style="stroke-width:1.2"/>
<path d="M-3.9 36.5C-2.9 37 -2.1 38.1 0 38.1C2.1 38.1 2.9 37 3.9 36.5" style="stroke-width:1.2"/>
<path d="M-3.9 39.2C-2.9 39.7 -2.1 40.8 0 40.8C2.1 40.8 2.9 39.7 3.9 39.2" style="stroke-width:1.2"/>
<path d="M-3.9 41.9C-2.9 42.4 -2.1 43.5 0 43.5C2.1 43.5 2.9 42.4 3.9 41.9" style="stroke-width:1.2"/>
</g>
<g transform="rotate(-19 566.7 648.2)">
<path d="M559.7 644.7L559.7 652.7" style="stroke-width:1.2"/>
<path d="M573.7 644.7L573.7 652.7" style="stroke-width:1.2"/>
<path d="M559.7 644.7L559.7 653.2A7 4.7 0 0 0 573.7 653.2L573.7 644.7Z" style="fill:#fff"/>
<path d="M559.7 650.7A7 4.7 0 0 0 573.7 650.7"/>
<ellipse cx="566.7" cy="644.7" rx="7" ry="4.7" style="fill:#fff"/>
<ellipse cx="566.7" cy="644.7" rx="4.4" ry="2.9" style="stroke-width:1.5"/>
</g>
<g transform="rotate(-19 515.9 697.3)">
<path d="M508.9 693.8L508.9 701.8" style="stroke-width:1.2"/>
<path d="M522.9 693.8L522.9 701.8" style="stroke-width:1.2"/>
<path d="M508.9 693.8L508.9 702.3A7 4.7 0 0 0 522.9 702.3L522.9 693.8Z" style="fill:#fff"/>
<path d="M508.9 699.8A7 4.7 0 0 0 522.9 699.8"/>
<ellipse cx="515.9" cy="693.8" rx="7" ry="4.7" style="fill:#fff"/>
<ellipse cx="515.9" cy="693.8" rx="4.4" ry="2.9" style="stroke-width:1.5"/>
</g>
<g transform="translate(364.8 399.3) rotate(-19.6)">
<path d="M-3.9 1.5L-3.9 25L-3.3 26L-3.3 29L-3.9 30L-3.9 34L-2.4 36L2.4 36L3.9 34L3.9 30L3.3 29L3.3 26L3.9 25L3.9 1.5" style="fill:#fff"/>
<ellipse cx="0" cy="1.8" rx="3.9" ry="2.2" style="fill:#fff"/>
<path d="M-3.9 4.5C-2.9 4.9 -2.1 6.1 0 6.1C2.1 6.1 2.9 4.9 3.9 4.5" style="stroke-width:1.2"/>
<path d="M-3.9 7.2C-2.9 7.6 -2.1 8.8 0 8.8C2.1 8.8 2.9 7.6 3.9 7.2" style="stroke-width:1.2"/>
<path d="M-3.9 9.9C-2.9 10.3 -2.1 11.5 0 11.5C2.1 11.5 2.9 10.3 3.9 9.9" style="stroke-width:1.2"/>
<path d="M-3.9 12.6C-2.9 13 -2.1 14.2 0 14.2C2.1 14.2 2.9 13 3.9 12.6" style="stroke-width:1.2"/>
<path d="M-3.9 15.3C-2.9 15.7 -2.1 16.9 0 16.9C2.1 16.9 2.9 15.7 3.9 15.3" style="stroke-width:1.2"/>
<path d="M-3.9 18C-2.9 18.4 -2.1 19.6 0 19.6C2.1 19.6 2.9 18.4 3.9 18" style="stroke-width:1.2"/>
<path d="M-3.9 20.7C-2.9 21.1 -2.1 22.3 0 22.3C2.1 22.3 2.9 21.1 3.9 20.7" style="stroke-width:1.2"/>
<path d="M-3.9 23.4C-2.9 23.8 -2.1 25 0 25C2.1 25 2.9 23.8 3.9 23.4" style="stroke-width:1.2"/>
<path d="M-3.9 31C-2.9 31.4 -2.1 32.6 0 32.6C2.1 32.6 2.9 31.4 3.9 31" style="stroke-width:1.2"/>
<path d="M-3.9 33.7C-2.9 34.1 -2.1 35.3 0 35.3C2.1 35.3 2.9 34.1 3.9 33.7" style="stroke-width:1.2"/>
</g>
<g transform="translate(427.7 372.7) rotate(-21.4)">
<path d="M-3.9 1.5L-3.9 25L-3.3 26L-3.3 29.4L-3.9 30.4L-3.9 34.4L-2.4 36.4L2.4 36.4L3.9 34.4L3.9 30.4L3.3 29.4L3.3 26L3.9 25L3.9 1.5" style="fill:#fff"/>
<ellipse cx="0" cy="1.8" rx="3.9" ry="2.2" style="fill:#fff"/>
<path d="M-3.9 4.5C-2.9 4.9 -2.1 6.1 0 6.1C2.1 6.1 2.9 4.9 3.9 4.5" style="stroke-width:1.2"/>
<path d="M-3.9 7.2C-2.9 7.6 -2.1 8.8 0 8.8C2.1 8.8 2.9 7.6 3.9 7.2" style="stroke-width:1.2"/>
<path d="M-3.9 9.9C-2.9 10.3 -2.1 11.5 0 11.5C2.1 11.5 2.9 10.3 3.9 9.9" style="stroke-width:1.2"/>
<path d="M-3.9 12.6C-2.9 13 -2.1 14.2 0 14.2C2.1 14.2 2.9 13 3.9 12.6" style="stroke-width:1.2"/>
<path d="M-3.9 15.3C-2.9 15.7 -2.1 16.9 0 16.9C2.1 16.9 2.9 15.7 3.9 15.3" style="stroke-width:1.2"/>
<path d="M-3.9 18C-2.9 18.4 -2.1 19.6 0 19.6C2.1 19.6 2.9 18.4 3.9 18" style="stroke-width:1.2"/>
<path d="M-3.9 20.7C-2.9 21.1 -2.1 22.3 0 22.3C2.1 22.3 2.9 21.1 3.9 20.7" style="stroke-width:1.2"/>
<path d="M-3.9 23.4C-2.9 23.8 -2.1 25 0 25C2.1 25 2.9 23.8 3.9 23.4" style="stroke-width:1.2"/>
<path d="M-3.9 31.4C-2.9 31.8 -2.1 33 0 33C2.1 33 2.9 31.8 3.9 31.4" style="stroke-width:1.2"/>
<path d="M-3.9 34.1C-2.9 34.5 -2.1 35.7 0 35.7C2.1 35.7 2.9 34.5 3.9 34.1" style="stroke-width:1.2"/>
</g>
<path d="M425.9 699.3L453.1 680.2"/>
<path d="M549.2 692L536.8 683.5"/>
<path d="M572 643.9L591.1 631.2"/>
<path d="M587.9 685.2L605.9 673.1"/>
<path d="M503.3 756.8L529.7 739.8"/>
<path d="M491.4 716.4L511 703.7"/>
<path d="M438.6 386L459.2 373.9"/>
<path d="M345.4 411L363.1 411.9"/>
<path d="M161.3 400.8C158.6 400.5 166.4 408.4 167.2 410.8C168.1 413.2 164.9 417.9 168.2 421.2C171.4 424.4 191.9 436.5 195.4 438.4C198.8 440.3 198.3 440.4 197.7 437.5C197.2 434.6 194.6 418.2 190.3 413.9C186 409.6 163.9 401.2 161.3 400.8Z" style="fill:#fff"/>
<path d="M189 360.5C186.4 361 188.1 361.7 184.5 363.6C180.9 365.6 179.8 363.7 175.4 367.8C171.1 371.9 172 371.7 168.2 379C164.3 386.4 162.6 388.6 160.9 395.4C159.1 402.2 159.9 400.3 161.6 404.5C163.3 408.6 163.6 408.6 167.2 410.8C170.9 413 171.1 411.9 175.4 412.6C179.8 413.4 180 413.5 183.6 413.5C187.2 413.5 185.4 413.6 189 412.6C192.7 411.7 193.1 409.9 197.2 409.9C201.3 409.9 201.7 413.5 204.5 412.6C207.3 411.8 205.6 409.1 207.7 406.6C209.9 404.2 210.2 406.8 212.6 403.6C215.1 400.3 214.8 399.1 216.8 394.5C218.8 389.9 219.7 390.9 220.1 386.3C220.5 381.7 221 381.7 218.3 377.2C215.5 372.8 215.4 372.7 209.9 369.6C204.4 366.5 201.7 367.6 197.6 365.6C193.4 363.6 196.8 363.3 194.5 362C192.2 360.6 191.7 360.1 189 360.5Z" style="fill:#fff"/>
<path d="M191.4 370.9C189 371.4 186.1 369.8 182.3 372.7C178.5 375.6 180.8 375.1 177.2 381.8C173.7 388.4 171 391.5 169.1 397.6C167.1 403.6 168.3 401.7 170 404.5C171.7 407.3 174 407.1 175.4 408.1"/>
<path d="M198.1 370C201.3 371.2 205.3 371.8 209.9 374.5C214.5 377.2 213.6 376.6 215.4 380C217.1 383.3 216.8 383.6 216.4 387.2C216.1 390.8 214.6 391.9 213.9 393.6"/>
<path d="M173.6 370C171.9 372.6 170.1 374.1 167.2 380C164.4 385.8 164.2 388.6 163.1 391.8" style="stroke-width:1.15"/>
<path d="M171.4 404.5C173 403.3 174 401.8 177.2 399.9C180.5 398.1 180.4 399.7 183.6 397.6C186.7 395.4 186.5 392.3 189 391.8C191.6 391.2 191.6 392 193.2 395.4C194.8 398.8 192 400.6 195 404.5C198 408.3 201.9 408.5 204.5 409.9"/>
<path d="M177.2 399.9C178.4 400.7 179.3 401.4 181.8 402.6C184.2 403.9 185.1 404 186.3 404.5"/>
<path d="M183.6 397.6C184.8 398.2 186.7 397.8 188.1 399.9C189.6 402 188.8 403.9 189 405.4"/>
<path d="M201.7 395.4C202.5 393.7 202.3 391.5 204.5 389C206.6 386.5 207.4 386.4 209.9 385.9C212.4 385.5 212.8 386.9 213.9 387.2"/>
<path d="M203.6 397.6C204.4 396.1 204.7 394.1 206.6 392.1C208.6 390.2 209.7 390.8 210.8 390.3"/>
<path d="M207.7 406.6C207.9 405.3 207.6 403.7 208.5 401.7C209.3 399.8 210.2 400 210.8 399.4"/>
<path d="M209.9 385.9C210.6 385.1 212.1 384.3 212.6 382.7C213.1 381.1 212 380.7 211.7 380"/>
<ellipse cx="193.6" cy="366.7" rx="2.2" ry="3" transform="rotate(20 193.6 366.7)" style="stroke-width:1.6"/>
<ellipse cx="212.8" cy="399" rx="2.6" ry="3" transform="rotate(20 212.8 399)" style="stroke-width:1.8"/>
<ellipse cx="212.8" cy="399" rx="4.4" ry="4.8" transform="rotate(20 212.8 399)"/>
<ellipse cx="186.3" cy="409.9" rx="2.6" ry="3" transform="rotate(20 186.3 409.9)" style="stroke-width:1.8"/>
<ellipse cx="186.3" cy="409.9" rx="4.4" ry="4.8" transform="rotate(20 186.3 409.9)"/>
<path d="M189 413.5L196.3 437.1"/>
<path d="M190.8 413.5L197.7 436.8"/>
<path d="M197.6 415.4L210.8 448"/>
<path d="M250.4 395.9C249.3 396.6 249.4 396.5 246.2 398.5C243.1 400.5 242.8 398.3 238.6 403.6C234.4 408.8 234.5 410.3 230.4 418.1C226.3 425.8 225.1 426.8 223.2 432.6C221.2 438.4 221.7 436.7 223.2 439.9C224.6 443 225.1 443.4 228.6 444.4C232.1 445.4 233.8 442.8 236.4 443.5C239.1 444.2 236.3 445.7 238.6 447.1C240.9 448.6 242.9 447.5 245 449C247 450.4 245.9 451.6 246.2 452.6"/>
<path d="M246.2 452.6L248.6 457.5L251.3 456.4L249.9 450.8"/>
<path d="M249.9 450.8C251 449.4 251 448.6 254 445.7C257.1 442.8 259.4 441.4 261.3 439.9"/>
<path d="M261.3 439.9L262.6 444.1L264.6 443.5L263.7 438.8"/>
<path d="M263.7 438.8C265.2 438.1 266.7 438.4 269.5 436.2C272.2 434.1 272.5 434.7 274 430.8C275.5 426.9 273.9 426.3 274.9 421.7C275.9 417.1 278 417.4 277.8 413.6C277.7 409.7 277.1 409.5 274.4 407.2C271.7 404.9 271.9 406 267.6 405C263.4 404.1 262.1 405.2 258.6 403.6C255.1 402 255.9 401 254.6 399C253.3 397.1 254.8 397.1 253.7 396.3C252.6 395.5 251.3 396 250.4 395.9"/>
<path d="M242.2 406.3C234.7 408.7 238.8 412.6 235 419.9C231.1 427.2 229.5 428.7 227.7 433.5C225.9 438.4 226.6 436.4 228.1 438.1C229.5 439.8 228.9 440.4 233.2 439.9C237.4 439.4 240.2 436.2 244 436.2C247.9 436.2 246.2 437.5 247.7 439.9C249.1 442.3 248 444.1 249.5 445.3C250.9 446.5 250.2 446.6 253.1 444.4C256 442.2 256 441.3 260.4 437.2C264.7 433 266.6 433.1 269.5 429C272.4 424.9 270.3 425.6 271.3 421.7C272.2 417.9 273.6 417.1 273.1 414.5C272.6 411.8 272.1 412.7 269.5 411.7C266.8 410.8 270.4 412.3 263.1 410.8C255.8 409.4 249.7 403.9 242.2 406.3Z"/>
<ellipse cx="250.4" cy="399.6" rx="2" ry="2.4"/>
<ellipse cx="241.9" cy="443.1" rx="1.8" ry="2.4" transform="rotate(30 241.9 443.1)"/>
<ellipse cx="269.1" cy="433" rx="1.8" ry="2.4" transform="rotate(30 269.1 433)"/>
<path d="M274.5 381.8L269.5 405"/>
<path d="M186.3 449C186.6 447.8 192.3 443.2 193.5 442.7C194.7 442.2 200.4 441.3 202.6 441.8C204.9 442.3 222.5 449.2 224.4 450C226.3 450.7 228.3 450.9 228.9 451.8C229.5 452.6 232.5 460.5 232.6 461.4C232.6 462.3 230.1 463.7 229.5 463.6C228.9 463.4 225.7 459.6 224.4 459C223.1 458.4 213.4 456.1 211.7 455.4C210 454.7 201.9 450.2 200.8 450C199.7 449.8 197.2 452.1 197.2 452.7C197.1 453.3 200.1 457.3 199.9 458.1C199.7 458.9 195.1 463.1 194.4 463.6C193.8 464 189.7 463.4 190.8 464.5C191.9 465.5 208.4 477.5 209.9 478.1C211.3 478.7 211 473.4 210.8 472.6C210.6 471.9 207.1 468.7 207.2 468.1C207.2 467.5 211 464.4 211.7 464.5C212.4 464.5 216.3 467.5 217.1 469C217.9 470.5 222.4 483.7 222.6 485.4C222.8 487.1 221.3 492.4 219.9 492.3C218.5 492.1 205.9 485 203.5 483.5C201.2 482 189.4 473.2 188.1 471.7C186.8 470.3 186.2 464.5 186.3 463.6C186.3 462.6 189 460.1 189 459C189 458 185.9 450.2 186.3 449Z" style="fill:#fff;stroke-width:1.9"/>
<path d="M188.1 450.1C188.7 449.6 192.9 445.3 194.3 444.7C195.7 444.1 199.3 443.1 202.3 443.8C205.2 444.5 221.4 451.1 223.5 452" style="stroke-width:1.5"/>
<path d="M190.3 451.2C190.7 450.8 193.8 447.4 195 446.9C196.2 446.3 199.1 445.2 201.9 446C204.7 446.7 220.8 453.3 223 454.1" style="stroke-width:1.5"/>
<path d="M191 459.2C190.7 459.6 188.6 462.5 188.5 463.6C188.3 464.7 188.3 468.5 189.9 470.3C191.5 472 202.4 479.9 204.4 481.2C206.4 482.5 209.3 482.8 209.9 483" style="stroke-width:1.5"/>
<path d="M192.8 460.7C192.6 461 190.9 463.5 190.8 464.3C190.7 465.1 190.5 467.2 191.9 468.7C193.4 470.1 204 477.8 205.3 478.8" style="stroke-width:1.5"/>
<path d="M211.7 464.5L219 489"/>
<path d="M214.4 467.6L220.8 488.1"/>
<path d="M224.4 450L228.9 461.8"/>
<path d="M161.8 462.7L187.2 459.6"/>
<g transform="translate(136.5 336.5) rotate(29)">
<path d="M4 -2.7L21 -2.7L21.8 -2L21.8 2L21 2.7L4 2.7Z" style="fill:#fff"/>
<path d="M10 -2.7L10.8 2.7" style="stroke-width:1.15"/>
<path d="M12 -2.7L12.8 2.7" style="stroke-width:1.15"/>
<path d="M14 -2.7L14.8 2.7" style="stroke-width:1.15"/>
<path d="M16 -2.7L16.8 2.7" style="stroke-width:1.15"/>
<path d="M18 -2.7L18.8 2.7" style="stroke-width:1.15"/>
<path d="M20 -2.7L20.8 2.7" style="stroke-width:1.15"/>
<ellipse cx="4" cy="0" rx="2.4" ry="6.4" style="fill:#fff"/>
<path d="M-5.5 -5.6L2.5 -5.6L2.5 5.6L-5.5 5.6L-6.8 3.4L-6.8 -3.4Z" style="fill:#fff"/>
<path d="M-6.2 -2L2.5 -2"/>
<path d="M-6.2 2L2.5 2"/>
</g>
<path d="M142.9 304.4L139.5 329.1"/>
<ellipse cx="165.1" cy="351.4" rx="4.3" ry="5.5" transform="rotate(25 165.1 351.4)" style="fill:#fff"/>
<ellipse cx="165.1" cy="351.6" rx="1.9" ry="2.6" transform="rotate(25 165.1 351.6)"/>
<path d="M173 321.3L168.3 346.1"/>
<path d="M168.7 353.1L183.5 361.5"/>
<g transform="translate(80.4 508.6) rotate(29.5)">
<path d="M20 -4.1L83 -4.1L83 4.1L20 4.1" style="fill:#fff"/>
<ellipse cx="83" cy="0" rx="2.1" ry="4.1" style="fill:#fff"/>
<ellipse cx="53" cy="-0.5" rx="1.6" ry="1.3"/>
<path d="M20 -5L25 -5L25 5L20 5" style="fill:#fff"/>
<path d="M20.1 -6L23.5 -6L23.5 6L20.1 6" style="fill:#fff"/>
<ellipse cx="23.5" cy="0" rx="2.5" ry="6" style="fill:#fff"/>
<path d="M20.1 -6A2.5 6 0 0 0 20.1 6" />
<path d="M14.6 -7.2L18 -7.2L18 7.2L14.6 7.2" style="fill:#fff"/>
<ellipse cx="18" cy="0" rx="2.5" ry="7.2" style="fill:#fff"/>
<path d="M14.6 -7.2A2.5 7.2 0 0 0 14.6 7.2" />
<path d="M9.1 -6.4L12.5 -6.4L12.5 6.4L9.1 6.4" style="fill:#fff"/>
<ellipse cx="12.5" cy="0" rx="2.5" ry="6.4" style="fill:#fff"/>
<path d="M9.1 -6.4A2.5 6.4 0 0 0 9.1 6.4" />
<path d="M9 -2.6L1 -2.6L1 2.6L9 2.6" style="fill:#fff"/>
<ellipse cx="1" cy="0" rx="1.3" ry="2.6" style="fill:#fff"/>
</g>
<path d="M125.4 499.1L115.8 523"/>
<ellipse cx="161.6" cy="554.4" rx="4.4" ry="8" transform="rotate(-14 161.6 554.4)" style="fill:#fff"/>
<path d="M159.7 546.6L165.8 549.8L169.6 565.4L163.5 562.2Z" style="fill:#fff;stroke:none"/>
<path d="M159.7 546.6L165.8 549.8"/>
<path d="M163.5 562.2L169.6 565.4"/>
<ellipse cx="167.7" cy="557.6" rx="4.4" ry="8" transform="rotate(-14 167.7 557.6)" style="fill:#fff"/>
<ellipse cx="167.2" cy="557.5" rx="2.3" ry="4.4" transform="rotate(-14 167.2 557.5)"/>
<path d="M179.8 530.4L166.2 551.3"/>
<path d="M168.9 559L179.3 566.4"/>
<path d="M179.3 566.4L320.4 485L334 491.8" stroke-dasharray="60 3 1.5 3"/>
<path d="M261.6 537.5C262 535.7 270.3 533.3 273.3 532C276.3 530.7 282.5 527.4 284.1 527.5C285.7 527.6 285.3 531.3 285.3 532.5C285.2 533.7 283.9 535.3 283.6 536.6C283.3 538 285 541.3 283.3 542.5C281.6 543.6 273.7 546 270.8 545.3C267.9 544.6 261.3 539.2 261.6 537.5Z" style="fill:#fff"/>
<path d="M275.8 548.3C278.3 546.6 283.8 543.6 286.6 543.3C289.4 543 289.4 544.6 289.9 546.6C290.4 548.6 291.3 551 289.1 553.3C286.8 555.6 281.4 557.9 278.6 558.3C275.8 558.7 275.8 556.6 274.9 555.3C274 553.9 273.9 553 274.1 551.6C274.3 550.2 273.3 550 275.8 548.3Z" style="fill:#fff"/>
<path d="M278.6 558.3C278.1 557.3 276.8 556.1 276.6 554.1C276.4 552.2 277.6 550.9 277.9 550"/>
<path d="M262.5 540.8C264 540.3 266.2 537.7 269.1 538.6C272 539.6 273.8 541.4 274.9 545C276.1 548.6 275.7 551.6 274.1 554.1C272.6 556.6 269.6 555.4 268.3 555.8" style="fill:#fff;stroke-width:1.4"/>
<path d="M265.8 539.6C266.7 541.1 268.5 541.1 269.1 545C269.7 548.8 268.3 551.7 268 554.1" style="stroke-width:1.2"/>
<path d="M267.5 540.1C268.3 541.6 270.2 541.7 270.8 545.5C271.4 549.2 269.9 551.9 269.6 554.3" style="stroke-width:1.2"/>
<path d="M269.1 540.6C270 542.1 271.9 542.3 272.4 546C273 549.6 271.6 552.2 271.3 554.4" style="stroke-width:1.2"/>
<path d="M270.8 541.1C271.7 542.6 273.5 542.9 274.1 546.5C274.7 550.1 273.3 552.4 272.9 554.6" style="stroke-width:1.2"/>
<ellipse cx="258.3" cy="554.1" rx="10.6" ry="14.6" transform="rotate(-21 258.3 554.1)" style="fill:#fff;stroke-width:1.4"/>
<path d="M250.8 550.8C251.2 550 254.1 547.6 255 547.5C255.9 547.3 259.5 548.5 260 549.1C260.5 549.7 259.4 553 260 553.3C260.5 553.5 265.2 551.3 265.8 551.6C266.4 552 266.7 555.9 266.3 556.6C265.9 557.3 262.1 558 261.6 558.6C261.2 559.2 262.1 562.4 261.6 562.9C261.1 563.4 257.5 563.8 256.6 563.6C255.7 563.4 252.6 561.4 252.5 560.8C252.3 560.1 255.1 557.5 255 556.9C254.8 556.4 251.2 555.9 250.8 555.3C250.4 554.7 250.4 551.6 250.8 550.8Z" style="stroke-width:1.15"/>
<path d="M250.3 557.4L266.6 550.8"/>
<path d="M255 563.6L264.1 559.6" style="stroke-width:1.15"/>
<ellipse cx="260" cy="555.8" rx="3" ry="3.6" transform="rotate(-21 260 555.8)"/>
<path d="M299.1 561.9C299.1 560.3 308.9 557.7 313.2 557.4C317.5 557.2 328.4 559.9 331.5 559.9C334.7 560 336.4 557.3 336.8 557.9C337.3 558.6 336.3 563.2 335.2 564.6C334 566 330.5 567.3 328.2 568.3C325.9 569.2 320.2 571.7 318.2 571.9C316.2 572.1 315.8 571.3 313.2 569.9C310.7 568.6 299.1 563.6 299.1 561.9Z" style="fill:#fff"/>
<path d="M313.2 563.6L332.4 563.6" style="stroke-width:1.15"/>
<path d="M313.2 568.3C314.4 567.9 316.5 566.2 318.2 566.6C320 567 320.2 567.8 320.7 569.9C321.2 572.1 321.6 573.9 320.2 575.7C318.8 577.6 316.1 577.4 314.9 577.9" style="fill:#fff"/>
<path d="M301.6 563.6C303.1 563.6 305.4 562.5 308.2 563.6C311 564.7 312.4 565.2 313.5 568.3C314.7 571.3 314.5 574.2 313.2 576.6C312 579 309.4 578.1 308.2 578.6" style="fill:#fff;stroke-width:1.4"/>
<path d="M304.1 563.6C305.1 565.1 307.1 565.4 307.9 569.1C308.6 572.8 307.2 575.2 306.9 577.4" style="stroke-width:1.2"/>
<path d="M305.9 564.3C306.9 565.8 309 566.3 309.7 569.8C310.5 573.4 309 575.5 308.7 577.6" style="stroke-width:1.2"/>
<path d="M307.7 565.1C308.7 566.5 310.8 567.2 311.6 570.6C312.3 573.9 310.8 575.9 310.6 577.8" style="stroke-width:1.2"/>
<path d="M309.6 565.8C310.6 567.3 312.6 568 313.4 571.3C314.1 574.5 312.6 576.2 312.4 578" style="stroke-width:1.2"/>
<ellipse cx="299.1" cy="576.6" rx="10.6" ry="15" transform="rotate(-21 299.1 576.6)" style="fill:#fff;stroke-width:1.4"/>
<ellipse cx="298.2" cy="577.4" rx="8" ry="11.6" transform="rotate(-21 298.2 577.4)" style="stroke-width:1.15"/>
<path d="M291.6 572.9C292.8 572.4 294.8 570.3 296.9 570.8C299 571.2 300 572.6 300.7 574.9C301.5 577.2 301.6 578.3 300.2 580.7C298.9 583.1 297.1 584.1 294.9 585.2C292.7 586.4 291.7 585.6 290.7 585.7" style="fill:#fff"/>
<ellipse cx="291.6" cy="579.6" rx="5" ry="6.6" transform="rotate(-15 291.6 579.6)" style="fill:#fff"/>
<ellipse cx="291.6" cy="579.6" rx="3.2" ry="4.4" transform="rotate(-15 291.6 579.6)" style="stroke-width:1.15"/>
<path d="M287.9 565.8L291.9 564.3L292.6 568.6L288.6 570.3Z" style="fill:#fff"/>
<ellipse cx="301.1" cy="587.4" rx="1.4" ry="1.8"/>
<ellipse cx="296.9" cy="581.9" rx="1.6" ry="2" style="stroke-width:1.4"/>
<g transform="translate(231.6 570.5) rotate(-28)">
<path d="M2 -1.8L10.5 -1.8L10.5 1.8L2 1.8Z" style="fill:#fff"/>
<path d="M4 -1.8L4.6 1.8" style="stroke-width:1.15"/>
<path d="M5.8 -1.8L6.4 1.8" style="stroke-width:1.15"/>
<path d="M7.6 -1.8L8.2 1.8" style="stroke-width:1.15"/>
<path d="M9.4 -1.8L10 1.8" style="stroke-width:1.15"/>
<ellipse cx="0" cy="0" rx="3.4" ry="4.6" style="fill:#fff;stroke-width:1.4"/>
</g>
<g transform="translate(254.1 587.5) rotate(-28)">
<path d="M2 -1.8L10.5 -1.8L10.5 1.8L2 1.8Z" style="fill:#fff"/>
<path d="M4 -1.8L4.6 1.8" style="stroke-width:1.15"/>
<path d="M5.8 -1.8L6.4 1.8" style="stroke-width:1.15"/>
<path d="M7.6 -1.8L8.2 1.8" style="stroke-width:1.15"/>
<path d="M9.4 -1.8L10 1.8" style="stroke-width:1.15"/>
<ellipse cx="0" cy="0" rx="3.4" ry="4.6" style="fill:#fff;stroke-width:1.4"/>
</g>
<path d="M241.3 566.2L249.3 562"/>
<path d="M263.8 582.1L286.8 570.5" stroke-dasharray="14 3 1.5 3"/>
<path d="M216.1 560.8L246.9 551.6"/>
<path d="M216.6 587.9L229.2 573.4"/>
<path d="M243.7 606.8L252.5 591.1"/>
<path d="M277.1 601.5L292.9 586.2"/>
<path d="M296.6 625.1L288.1 621.5L292.1 636.3L300.6 639.9Z" style="fill:#fff;stroke:none"/>
<ellipse cx="290.1" cy="629.1" rx="5.4" ry="7.6" transform="rotate(-15 290.1 629.1)" style="fill:#fff"/>
<path d="M296.6 625.3L288.1 621.7L292.1 636.5L300.6 640.1Z" style="fill:#fff;stroke:none"/>
<path d="M288.1 621.7L296.6 625.3"/>
<path d="M292.1 636.5L300.6 640.1"/>
<ellipse cx="298.6" cy="632.7" rx="6" ry="7.6" transform="rotate(-15 298.6 632.7)" style="fill:#fff"/>
<ellipse cx="298.9" cy="633.3" rx="2.7" ry="3.8" transform="rotate(-15 298.9 633.3)"/>
<path d="M372.3 669.7L363.8 666.1L367.8 680.9L376.3 684.5Z" style="fill:#fff;stroke:none"/>
<ellipse cx="365.8" cy="673.7" rx="5.4" ry="7.6" transform="rotate(-15 365.8 673.7)" style="fill:#fff"/>
<path d="M372.3 669.9L363.8 666.3L367.8 681.1L376.3 684.7Z" style="fill:#fff;stroke:none"/>
<path d="M363.8 666.3L372.3 669.9"/>
<path d="M367.8 681.1L376.3 684.7"/>
<ellipse cx="374.3" cy="677.3" rx="6" ry="7.6" transform="rotate(-15 374.3 677.3)" style="fill:#fff"/>
<ellipse cx="374.6" cy="677.9" rx="2.7" ry="3.8" transform="rotate(-15 374.6 677.9)"/>
<path d="M285.8 623.1L280.4 620.4"/>
<path d="M280.4 620.4L377.6 564" stroke-dasharray="40 3 1.5 3"/>
<ellipse cx="310.7" cy="642.6" rx="4.6" ry="6.6" transform="rotate(-22 310.7 642.6)" style="stroke-width:1.15"/>
<ellipse cx="312.3" cy="643.1" rx="4.6" ry="6.6" transform="rotate(-22 312.3 643.1)" style="stroke-width:1.15"/>
<ellipse cx="313.9" cy="643.6" rx="4.6" ry="6.6" transform="rotate(-22 313.9 643.6)" style="stroke-width:1.15"/>
<path d="M309.1 637.1C309.2 635.4 309.2 631.9 309.7 629.6C310.2 627.3 310.6 627.5 311.3 627.4C312 627.3 312.5 627 312.9 629.1C313.3 631.2 312.9 634.9 312.9 636.6"/>
<path d="M315.8 636.6C316.5 635 317.6 632.1 318.8 629.6C320 627.1 320.2 626.5 320.9 626.1C321.6 625.8 322.5 625.3 321.9 628.1C321.3 630.9 319.1 635.8 318.3 638.1"/>
<ellipse cx="352" cy="665.6" rx="4.6" ry="6.6" transform="rotate(-22 352 665.6)" style="stroke-width:1.15"/>
<ellipse cx="353.6" cy="666.1" rx="4.6" ry="6.6" transform="rotate(-22 353.6 666.1)" style="stroke-width:1.15"/>
<ellipse cx="355.2" cy="666.6" rx="4.6" ry="6.6" transform="rotate(-22 355.2 666.6)" style="stroke-width:1.15"/>
<path d="M350.4 660.1C350.5 658.4 350.5 654.9 351 652.6C351.5 650.3 351.9 650.5 352.6 650.4C353.3 650.3 353.8 650 354.2 652.1C354.6 654.2 354.2 657.9 354.2 659.6"/>
<path d="M357.1 659.6C357.8 658 358.9 655.1 360.1 652.6C361.3 650.1 361.5 649.5 362.2 649.1C362.9 648.8 363.8 648.3 363.2 651.1C362.6 653.9 360.4 658.8 359.6 661.1"/>
<path d="M322.6 645.7C323.1 644.2 323.4 642 325.9 642.2C328.4 642.4 334.9 645.5 337.6 646.8C340.2 648.2 340.9 648.9 341.6 650.4C342.4 651.9 342.7 654.1 342.2 655.8C341.6 657.5 339.6 659.9 338.4 660.5C337.2 661 336 659.1 334.8 659.4C333.7 659.6 333.1 662.4 331.3 662.1C329.5 661.8 325.4 659.5 323.9 657.7C322.5 656 322.8 653.7 322.6 651.7C322.4 649.7 322 647.3 322.6 645.7Z" style="fill:#fff"/>
<path d="M325.9 642.2C325.8 642.8 324.2 647.3 325.3 648.5C326.4 649.6 335.5 654.1 336.7 653.9C338 653.8 337.5 647.5 337.6 646.8"/>
<path d="M336.7 653.9L334.8 659.4"/>
<ellipse cx="338.9" cy="653.9" rx="2.6" ry="4.2" transform="rotate(15 338.9 653.9)"/>
<ellipse cx="329.7" cy="655.8" rx="2" ry="2.6"/>
<path d="M306.2 654.5L316.6 660.5L316.1 673.5L305.7 667Z" style="fill:#fff"/>
<path d="M306.2 654.5L304.6 655.6L304.1 668.1L305.7 667Z" style="fill:#fff"/>
<path d="M304.1 668.1L314.4 674.6L316.1 673.5"/>
<ellipse cx="309.8" cy="664" rx="1.8" ry="2.6" style="stroke-width:1.4"/>
<g transform="translate(284.5 681.2) rotate(-31)">
<path d="M3 -2.6L15 -2.6L15.6 -2L15.6 2L15 2.6L3 2.6Z" style="fill:#fff"/>
<path d="M6.5 -2.6L7.2 2.6" style="stroke-width:1.15"/>
<path d="M8.3 -2.6L9 2.6" style="stroke-width:1.15"/>
<path d="M10.1 -2.6L10.8 2.6" style="stroke-width:1.15"/>
<path d="M11.9 -2.6L12.6 2.6" style="stroke-width:1.15"/>
<path d="M13.7 -2.6L14.4 2.6" style="stroke-width:1.15"/>
<path d="M0 -5.6L4 -5.2L4 5.2L0 5.6" style="fill:#fff"/>
<ellipse cx="4" cy="0" rx="2.2" ry="5.2" style="fill:#fff"/>
<ellipse cx="0" cy="0" rx="4.4" ry="5.8" style="fill:#fff"/>
<ellipse cx="0" cy="0" rx="2.2" ry="3" style="stroke-width:1.3"/>
</g>
<path d="M299.4 672.2L304.9 669.2"/>
<path d="M311.7 665.4L328.6 656.4"/>
<path d="M262.1 644.9L285.8 635.9"/>
<path d="M284.5 661.3L307.6 646.3"/>
<path d="M305.7 695.9L309 671.4"/>
<path d="M329.4 686.6L331.3 662.1"/>
<path d="M278.5 708.9L283.1 687.1"/>
<path d="M355.8 703.5L353.1 673.5"/>
<path d="M381.1 717.6L373 684.4"/>
<path d="M164.4 599.2C164.6 596.2 162.6 595.7 166.3 597.5C170.1 599.3 205.7 618.4 209.4 620.5C213.1 622.6 211 619.9 211.1 622.9C211.3 626 211.3 654.3 211.1 657.3C211 660.3 212.9 660.8 209.2 659C205.4 657.2 169.8 638.2 166.1 636C162.4 633.8 164.5 636.2 164.4 633.1C164.3 630 164.2 602.2 164.4 599.2Z" style="fill:#fff"/>
<path d="M173.4 616.1C174.7 612.2 175.9 612.4 178.2 611.3C180.5 610.2 181.3 610.5 183 611.3C184.7 612.2 183.5 613.5 185.5 614.9C187.4 616.4 187.3 615.4 191.5 617.4C195.7 619.3 200.4 620.6 203.6 623.4C206.8 626.2 205.3 625.2 205.1 629.5C204.8 633.7 204.1 637.6 202.6 641.6C201.2 645.5 201 645.5 198.8 646.4C196.5 647.3 194.9 646.5 193 645.4C191 644.4 192.3 643 190.3 641.8C188.3 640.6 187.6 642 184.2 640.4C180.9 638.7 178.5 637.4 175.8 634.5C173.1 631.7 173.2 632.5 172.6 628.3C172.1 624 172.1 620.1 173.4 616.1Z"/>
<ellipse cx="167.8" cy="601.1" rx="1.9" ry="2.4"/>
<ellipse cx="208.4" cy="624.6" rx="1.9" ry="2.4"/>
<ellipse cx="208" cy="654.9" rx="1.9" ry="2.4"/>
<ellipse cx="167.3" cy="631.9" rx="1.9" ry="2.4"/>
<path d="M148.4 583.5L163.7 599.2"/>
<path d="M110.7 640.8C107.6 640.5 111.9 661 112.1 662.6C112.3 664.2 110.5 663.3 113.6 665C116.6 666.8 154.3 687.7 157.6 689.3C160.9 690.8 162.5 689.3 162.9 687.8C163.4 686.3 164.7 668.4 164.4 667C164 665.6 161.2 668.7 157.6 667C154 665.2 113.7 641.1 110.7 640.8Z" style="fill:#fff"/>
<path d="M114 648.6L157.1 671.8L157.1 685.4L114.5 662.1Z" style="stroke-width:1.15"/>
<ellipse cx="116" cy="660.2" rx="1.5" ry="1.9"/>
<ellipse cx="154.7" cy="682.7" rx="1.5" ry="1.9"/>
<path d="M109.2 637.5C105.3 634.3 109.6 629.9 110.2 628.7C110.7 627.5 115.3 623.5 116 622.9C116.7 622.4 115 620.5 118.9 622.4C122.8 624.4 159.1 644.3 162.9 646.6C166.8 648.9 165.2 649 165.4 650C165.6 651 165.8 657.3 165.4 658.5C165 659.8 161.2 664.4 160.5 665C159.9 665.7 161.9 668.3 157.6 666C153.3 663.7 113.2 640.6 109.2 637.5Z" style="fill:#fff"/>
<path d="M109.2 637.5L157.6 666" style="stroke-width:1.5"/>
<path d="M109.9 639.6L157.6 668" style="stroke-width:1.8"/>
<path d="M111.1 642.8L157.6 669.9" style="stroke-width:1.15"/>
<path d="M112.1 629.5L159.6 656.1"/>
<path d="M114.5 626.3L161.5 652" style="stroke-width:1.15"/>
<path d="M111.1 633.1L158.6 660.2" style="stroke-width:1.15"/>
<path d="M135.3 633.1L136.8 631.2L140.2 633.1L138.7 635.5" style="fill:#fff"/>
<ellipse cx="116" cy="631.2" rx="2.2" ry="2.6"/>
<ellipse cx="155.2" cy="653.7" rx="2.2" ry="2.6"/>
<path d="M158.1 673.9L158.1 687.8L163.9 685.4L164.5 675.1Z" style="fill:#fff"/>
<path d="M159.3 666.1L170.2 666.5L170.2 677.1L160.8 676Z" style="fill:#fff;stroke:none"/>
<path d="M159.3 666.1L170.2 666.5"/>
<path d="M160.8 676L169.3 676.9"/>
<ellipse cx="169.9" cy="671.8" rx="3.5" ry="5.2" transform="rotate(8 169.9 671.8)" style="fill:#fff"/>
<ellipse cx="170.1" cy="671.8" rx="2.3" ry="3.6" transform="rotate(8 170.1 671.8)" style="stroke-width:1.5"/>
<ellipse cx="155.4" cy="683" rx="1.4" ry="1.8"/>
<path d="M110.4 600.4L117.7 622.2"/>
<path d="M178.8 674.4C180.7 672.7 181.8 672.5 184.1 672.7C186.4 672.9 187 673.5 188.7 675.1C190.3 676.8 191 677.2 191.1 679.7C191.2 682.1 190.2 683.5 189 685.7C187.7 687.9 187.5 688.5 185.6 689C183.8 689.6 183 689.1 181.1 688.1C179.2 687.2 178.5 686.9 177.3 685C176.2 683 175.9 682.1 176.3 679.7C176.6 677.2 177 676 178.8 674.4Z" style="fill:#fff"/>
<path d="M184.1 672.7C183.6 673.6 182.3 674.3 181.7 676.6C181.1 679 180.9 679.9 181.4 682.7C181.9 685.4 183.3 687.1 183.8 688.4"/>
<path d="M186.4 678.9C186 680.1 184.9 681.5 184.7 683.9C184.6 686.3 185.4 687.8 185.6 689" style="stroke-width:1.15"/>
<path d="M188.4 674.8L192.3 671.2L193.5 672.7L190.2 676Z" style="fill:#fff;stroke-width:1.4"/>
<path d="M190.5 679.4L194.7 683.9" style="stroke-width:2"/>
<path d="M172.1 713L183 688.8"/>
<g transform="translate(128.6 699.7) rotate(-27)">
<path d="M6 -2.7L15.5 -2.7L16 -2L16 2L15.5 2.7L6 2.7Z" style="fill:#fff"/>
<path d="M8.5 -2.7L9.2 2.7" style="stroke-width:1.15"/>
<path d="M10.4 -2.7L11.1 2.7" style="stroke-width:1.15"/>
<path d="M12.3 -2.7L13 2.7" style="stroke-width:1.15"/>
<path d="M14.2 -2.7L14.9 2.7" style="stroke-width:1.15"/>
<ellipse cx="5" cy="0" rx="2.6" ry="5.6" style="fill:#fff"/>
<path d="M-1 -5.4L3.5 -4.8L3.5 4.8L-1 5.4" style="fill:#fff"/>
</g>
<path d="M122.9 697.1L125.1 693.3L130.4 692.5L133.6 696.3L132.7 702.1L128.2 705.4L124.4 703.1Z" style="fill:#fff"/>
<path d="M130.4 692.5C131.1 692.7 132.8 692.7 133.9 693.6C135 694.5 135.5 695.3 135.7 697.1C135.9 698.8 135.6 700.8 135 702.4C134.4 703.9 134.1 704.2 132.7 704.8C131.3 705.4 129.1 705.3 128.2 705.4"/>
<path d="M133.6 696.3L135.7 697.1"/>
<path d="M132.7 702.1L135 702.4"/>
<path d="M141.9 692.4L155.2 685.1"/>
<path d="M117.7 725.1L125.7 706.9"/>
<path d="M194.5 690.5C195 686 198 683.5 201.4 684C212 690 222.8 701.7 228.8 713.5C229.9 718 229.9 724 229.9 759.5" />
<path d="M194.5 690.5C203.5 699.6 213.2 710.3 217.4 722.1C218.1 730 218.1 740 218.1 759.5" />
<path d="M218.1 797L218.3 849C218.5 852 220 853.8 221.5 853.5L229.9 842L229.9 797" />
<path d="M224.3 747.8L224.3 780" style="stroke-width:1.15"/>
<path d="M224.3 782.6L224.3 783.6" style="stroke-width:1.15"/>
<path d="M224.3 786.3L224.3 807.7" style="stroke-width:1.15"/>
<path d="M191.3 759.6L217.7 748.8"/>
<path d="M98.6 819.6L111.4 798L114.4 804.9L135.4 793.1L138.1 796.7L138.1 810.8L119 821.7L116.8 828Z" style="fill:#fff"/>
<path d="M98.6 819.6L100.5 821.7L116.8 830.5L116.8 828"/>
<text transform="translate(126.6 813.8) rotate(-30) skewX(-14) scale(0.86 1)" text-anchor="middle" font-size="13.5" font-weight="bold">FWD</text>
<g transform="translate(286.8 126.7) rotate(-19)">
<path d="M-7 -3L-7.3 -15L7.3 -15L7 -3L3 0L-3 0Z" style="fill:#fff"/>
<path d="M-7.1 -3C-5.2 -2.5 -3.8 -1 0 -1C3.8 -1 5.2 -2.5 7.1 -3" style="stroke-width:1.15"/>
<path d="M-7.1 -5.2C-5.2 -4.7 -3.8 -3.2 0 -3.2C3.8 -3.2 5.2 -4.7 7.1 -5.2" style="stroke-width:1.15"/>
<path d="M-7.1 -7.4C-5.2 -6.9 -3.8 -5.4 0 -5.4C3.8 -5.4 5.2 -6.9 7.1 -7.4" style="stroke-width:1.15"/>
<path d="M-7.1 -9.6C-5.2 -9.1 -3.8 -7.6 0 -7.6C3.8 -7.6 5.2 -9.1 7.1 -9.6" style="stroke-width:1.15"/>
<path d="M-7.1 -11.8C-5.2 -11.3 -3.8 -9.8 0 -9.8C3.8 -9.8 5.2 -11.3 7.1 -11.8" style="stroke-width:1.15"/>
<path d="M-7.1 -14C-5.2 -13.5 -3.8 -12 0 -12C3.8 -12 5.2 -13.5 7.1 -14" style="stroke-width:1.15"/>
<path d="M-7.6 -15C-9.2 -15.8 -8.9 -16.2 -9.4 -17.5C-9.9 -18.8 -13.9 -22.1 -10.6 -23C-7.3 -23.9 7.3 -23.9 10.6 -23C13.9 -22.1 9.9 -18.8 9.4 -17.5C8.9 -16.2 9.2 -15.8 7.6 -15C6 -14.2 2.5 -12.8 0 -12.8C-2.5 -12.8 -6 -14.2 -7.6 -15Z" style="fill:#fff"/>
<path d="M-11.2 -23L-11.2 -33L11.2 -33L11.2 -23" style="fill:#fff"/>
<path d="M-11.2 -23C-9.8 -22.2 -9 -21 -6 -20C-3 -19 -3.2 -19.2 0 -19.2C3.2 -19.2 3 -19 6 -20C9 -21 9.8 -22.2 11.2 -23" style="fill:#fff"/>
<path d="M-4.5 -19.6L-4.5 -28"/>
<path d="M6 -20L6 -28.5"/>
<ellipse cx="0" cy="-33" rx="11.2" ry="4.6" style="fill:#fff"/>
<path d="M-11.2 -31C-9.8 -30.1 -9 -28.8 -6 -27.6C-3 -26.4 -3.2 -26.6 0 -26.6C3.2 -26.6 3 -26.4 6 -27.6C9 -28.8 9.8 -30.1 11.2 -31"/>
<path d="M-11.2 -29C-9.8 -28.1 -9 -26.8 -6 -25.6C-3 -24.4 -3.2 -24.6 0 -24.6C3.2 -24.6 3 -24.4 6 -25.6C9 -26.8 9.8 -28.1 11.2 -29" style="stroke-width:1.15"/>
<path d="M-8.4 -36L-8.4 -33.5L8.4 -33.5L8.4 -36" style="fill:#fff"/>
<ellipse cx="0" cy="-33.5" rx="8.4" ry="3.4" style="fill:#fff"/>
<ellipse cx="0" cy="-36" rx="8.4" ry="3.4" style="fill:#fff"/>
<path d="M-6 -36.5L-6 -40.5L6 -40.5L6 -36.5" style="fill:#fff"/>
<path d="M-6 -36.5A6 2.5 0 0 0 6 -36.5" style="fill:#fff"/>
<ellipse cx="0" cy="-40.5" rx="6" ry="2.5" style="fill:#fff"/>
<path d="M-5 -40.5L-5 -44.5L5 -44.5L5 -40.5" style="fill:#fff"/>
<path d="M-5 -40.5A5 2.1 0 0 0 5 -40.5" style="fill:#fff"/>
<ellipse cx="0" cy="-44.5" rx="5" ry="2.1" style="fill:#fff"/>
<path d="M-4.1 -44.5L-4.1 -48.5L4.1 -48.5L4.1 -44.5" style="fill:#fff"/>
<path d="M-4.1 -44.5A4.1 1.7 0 0 0 4.1 -44.5" style="fill:#fff"/>
<ellipse cx="0" cy="-48.5" rx="4.1" ry="1.7" style="fill:#fff"/>
<path d="M-3.4 -48L-3.4 -52L3.4 -52L3.4 -48" style="fill:#fff"/>
<path d="M-3.4 -48A3.4 1.4 0 0 0 3.4 -48" style="fill:#fff"/>
<ellipse cx="0" cy="-52" rx="3.4" ry="1.4" style="fill:#fff"/>
<path d="M-2.7 -52L-2.7 -57.5L2.7 -57.5L2.7 -52" style="fill:#fff"/>
<path d="M-2.7 -52A2.7 1.3 0 0 0 2.7 -52"/>
<ellipse cx="0" cy="-57.5" rx="2.7" ry="1.6" style="fill:#fff"/>
</g>
<path d="M291.5 96.5L316.5 80"/>
<ellipse cx="254.5" cy="144.8" rx="8.3" ry="6.2" transform="rotate(-12 254.5 144.8)" style="fill:#fff"/>
<path d="M247.7 143.1C247.7 142.2 247.5 141.2 247.9 140.4C248.3 139.6 247.6 139.6 249.7 139.1C251.8 138.6 256.5 137.7 258.5 138C260.6 138.2 259.6 139.3 259.9 140.4C260.2 141.6 260.6 142.6 259.9 143.8C259.2 145.1 258.4 145.9 256.5 146.6C254.7 147.2 252.4 147.2 250.7 147C248.9 146.7 248.5 146 247.9 145.2C247.3 144.4 247.7 144.1 247.7 143.1Z" style="fill:#fff"/>
<path d="M250.7 143.1L250.7 146.7"/>
<path d="M256.5 142.5L256.5 146.3"/>
<path d="M247.7 141.8C248.3 142.1 248.9 143.2 250.7 143.4C252.4 143.6 254.7 143.3 256.5 142.7C258.4 142.1 259.2 140.9 259.9 140.4"/>
<path d="M247.9 140.4C247.8 139.3 247.2 138.9 247.7 137C248.1 135.1 247.7 135.8 249.3 134.7C250.9 133.6 250.3 133.7 252.4 133.6C254.5 133.5 254 133.3 255.6 134.4C257.1 135.6 256.6 135.2 257.2 137C257.8 138.8 257.4 138.8 257.5 139.7" style="fill:#fff"/>
<path d="M217 148.3L247 147"/>
<ellipse cx="261.1" cy="159.9" rx="8.3" ry="6.8" transform="rotate(-15 261.1 159.9)" style="fill:#fff"/>
<ellipse cx="260.9" cy="159.9" rx="4.9" ry="3.9" transform="rotate(-15 260.9 159.9)"/>
<path d="M225.9 177.2L252.8 163.3"/>
<path d="M266.7 170.1L277.2 192.5"/>
<path d="M194.5 366.5L259.8 404.3"/>
<path d="M290.4 127.7L311.3 175"/>
<path d="M379.7 434.3L390.6 462.8"/>
<path d="M442.7 406.8L449.6 425.5"/>
<path d="M388.5 361.8L415.7 424.5" stroke-dasharray="22 3 1.5 3" style="stroke-width:1.15"/>
<path d="M403.4 415.5L431.9 480.5" stroke-dasharray="30 3 1.5 3" style="stroke-width:1.15"/>
<g transform="translate(385.6 355.4) rotate(-21)">
<path d="M-1.6 0L-1.6 5.2L1.6 5.2L1.6 0" style="fill:#fff"/>
<ellipse cx="0" cy="0" rx="1.6" ry="1" style="fill:#fff;stroke-width:1.15"/>
</g>
<g transform="translate(401 408.6) rotate(-21)">
<path d="M-1.6 0L-1.6 5.2L1.6 5.2L1.6 0" style="fill:#fff"/>
<ellipse cx="0" cy="0" rx="1.6" ry="1" style="fill:#fff;stroke-width:1.15"/>
</g>
<path d="M390.2 358.9L406 363"/>
<path d="M383.4 403.4L398.7 410.2"/>
<path d="M215.3 347.8L210 370"/>
<path d="M504.9 442.9L507.9 449.2L488.8 466.2L497.3 484.6" stroke-dasharray="10 2.5 1.5 2.5"/>
<path d="M506.5 509.7L542.8 590.8" stroke-dasharray="40 3 1.5 3"/>
<path d="M548.9 606.5L563.5 640.7"/>
<path d="M474.6 542.4L481.1 556.9"/>
<path d="M489.6 575L519.5 647" stroke-dasharray="34 3 1.5 3"/>
<path d="M496.7 654.4L513 689"/>
<path d="M439.9 634.4L446 647.7"/>
<path d="M418.4 557.1L413 572.9L429 611.4" stroke-dasharray="14 3 1.5 3"/>
<path d="M273.5 543.9L362 505.5"/>
<path d="M299 561.6L392.5 510.8"/>
<path d="M377.6 564L344.9 543.5" stroke-dasharray="18 3 1.5 3"/>
<path d="M350 456.5L358 461"/>
</svg>
</body></html>
